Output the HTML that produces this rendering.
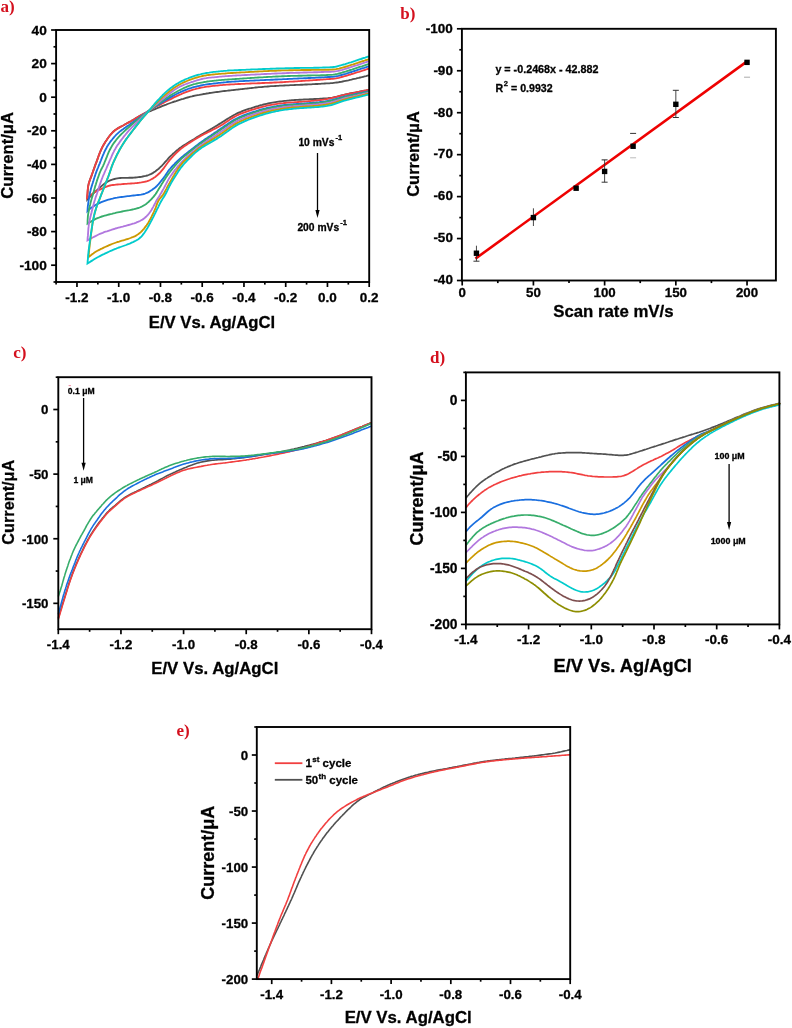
<!DOCTYPE html>
<html><head><meta charset="utf-8"><title>Figure</title>
<style>
html,body{margin:0;padding:0;background:#fff;}
body{width:792px;height:1028px;overflow:hidden;font-family:"Liberation Sans", sans-serif;}
svg{display:block;}
</style></head>
<body>
<svg width="792" height="1028" viewBox="0 0 792 1028">
<rect x="0" y="0" width="792" height="1028" fill="#fff"/>
<g style="opacity:0.999">
<text x="0.5" y="12.2" font-family='"Liberation Serif", serif' font-size="17" font-weight="bold" fill="#d4101e" text-anchor="start">a)</text>
<path d="M369,89.8 367.5,90.1 366.1,90.4 364.6,90.6 363.1,90.9 361.6,91.2 360.2,91.5 358.7,91.8 357.2,92.1 355.7,92.4 354.3,92.6 352.8,92.9 351.3,93.2 349.8,93.5 348.4,93.8 346.9,94.1 345.4,94.4 344,94.8 342.5,95.1 341.1,95.5 339.6,95.9 338.2,96.3 336.7,96.7 335.2,97 333.8,97.3 332.3,97.6 330.8,97.8 329.3,98 327.8,98.2 326.3,98.3 324.8,98.4 323.3,98.5 321.8,98.6 320.3,98.7 318.8,98.8 317.3,98.9 315.8,99 314.3,99 312.8,99.1 311.3,99.2 309.8,99.2 308.3,99.3 306.8,99.4 305.4,99.4 303.9,99.5 302.4,99.6 300.9,99.7 299.4,99.7 297.9,99.8 296.4,99.9 294.9,100 293.4,100.1 291.9,100.2 290.4,100.3 288.9,100.5 287.4,100.6 285.9,100.8 284.4,100.9 282.9,101.1 281.4,101.3 279.9,101.5 278.4,101.7 276.9,101.9 275.5,102.1 274,102.3 272.5,102.6 271,102.9 269.5,103.2 268.1,103.5 266.6,103.8 265.1,104.1 263.7,104.5 262.2,104.9 260.8,105.2 259.3,105.6 257.9,106.1 256.5,106.5 255,106.9 253.6,107.4 252.2,107.8 250.7,108.3 249.3,108.7 247.9,109.2 246.4,109.7 245,110.2 243.6,110.7 242.2,111.2 240.8,111.8 239.4,112.3 238.1,112.9 236.7,113.6 235.4,114.3 234,115 232.7,115.7 231.4,116.5 230.1,117.2 228.9,118 227.6,118.8 226.3,119.6 225.1,120.4 223.8,121.2 222.5,122 221.3,122.8 220,123.6 218.7,124.4 217.4,125.2 216.1,126 214.8,126.8 213.6,127.5 212.3,128.3 211,129 209.7,129.8 208.4,130.5 207.1,131.3 205.8,132.1 204.5,132.8 203.2,133.6 201.9,134.3 200.6,135.1 199.3,135.9 198,136.6 196.7,137.4 195.4,138.2 194.2,139 192.9,139.7 191.6,140.5 190.3,141.3 189,142.1 187.8,142.9 186.5,143.7 185.2,144.5 183.9,145.3 182.7,146.1 181.5,147 180.2,147.8 179,148.8 177.9,149.7 176.7,150.6 175.5,151.6 174.4,152.6 173.3,153.5 172.2,154.6 171.1,155.6 170,156.6 169,157.7 168,158.8 167,160 166,161.1 165,162.2 164,163.4 163,164.5 162,165.6 160.9,166.6 159.8,167.7 158.7,168.7 157.6,169.6 156.4,170.5 155.2,171.4 153.9,172.3 152.7,173.1 151.3,173.8 150,174.4 148.6,175 147.2,175.5 145.8,175.9 144.3,176.2 142.8,176.5 141.3,176.8 139.9,177 138.4,177.2 136.9,177.4 135.4,177.5 133.9,177.6 132.4,177.7 130.9,177.7 129.4,177.7 127.9,177.8 126.4,177.8 124.9,177.8 123.4,177.8 121.9,177.9 120.4,178 118.9,178.2 117.4,178.4 115.9,178.7 114.5,179 113,179.4 111.6,179.8 110.2,180.4 108.8,181 107.5,181.7 106.2,182.4 105,183.3 103.8,184.2 102.6,185.1 101.5,186.1 100.3,187.1 99.2,188.1 98.1,189.1 97,190.1 95.9,191.1 94.8,192.1 93.7,193.2 92.6,194.2 91.6,195.3 90.5,196.3 89.4,197.4 88.4,198.4 87.3,199.5 L87.3,199.5 87.4,198 87.4,196.5 87.5,195 87.6,193.5 87.7,192 87.8,190.5 87.9,189 88,187.5 88.2,186 88.5,184.6 88.9,183.1 89.3,181.7 89.8,180.3 90.3,178.8 90.9,177.4 91.4,176 91.9,174.6 92.4,173.2 92.9,171.8 93.4,170.4 93.9,169 94.4,167.6 94.9,166.1 95.4,164.7 96,163.3 96.5,161.9 97,160.5 97.5,159.1 98,157.7 98.5,156.3 99,154.9 99.6,153.4 100.1,152.1 100.7,150.7 101.3,149.3 102,147.9 102.6,146.6 103.4,145.3 104.1,144 104.9,142.7 105.6,141.4 106.5,140.2 107.3,138.9 108.2,137.7 109.1,136.5 110,135.3 111,134.2 112,133.1 113,132 114.2,131 115.3,130.1 116.5,129.2 117.8,128.4 119.1,127.6 120.4,126.9 121.7,126.2 123.1,125.5 124.4,124.8 125.7,124 127,123.3 128.3,122.6 129.7,121.9 131,121.2 132.3,120.4 133.6,119.7 134.8,118.9 136.1,118.1 137.4,117.3 138.7,116.5 140,115.8 141.3,115.1 142.7,114.4 144,113.8 145.4,113.2 146.8,112.6 148.1,112 149.5,111.4 150.9,110.8 152.3,110.2 153.7,109.7 155.1,109.1 156.5,108.5 157.8,107.9 159.2,107.4 160.6,106.8 162,106.2 163.4,105.7 164.8,105.1 166.2,104.6 167.6,104 169,103.5 170.4,103 171.8,102.5 173.3,102 174.7,101.5 176.1,101.1 177.5,100.6 179,100.1 180.4,99.7 181.8,99.2 183.3,98.8 184.7,98.3 186.1,97.9 187.6,97.5 189,97.1 190.5,96.7 191.9,96.4 193.4,96 194.9,95.7 196.3,95.4 197.8,95.1 199.3,94.9 200.8,94.6 202.2,94.3 203.7,94 205.2,93.8 206.7,93.5 208.2,93.3 209.6,93 211.1,92.8 212.6,92.6 214.1,92.4 215.6,92.2 217.1,92 218.6,91.8 220,91.6 221.5,91.4 223,91.2 224.5,91 226,90.8 227.5,90.7 229,90.5 230.5,90.3 232,90.1 233.5,90 235,89.8 236.4,89.6 237.9,89.5 239.4,89.3 240.9,89.1 242.4,89 243.9,88.8 245.4,88.6 246.9,88.5 248.4,88.3 249.9,88.1 251.4,88 252.9,87.8 254.4,87.7 255.8,87.5 257.3,87.4 258.8,87.2 260.3,87.1 261.8,87 263.3,86.8 264.8,86.7 266.3,86.6 267.8,86.5 269.3,86.4 270.8,86.2 272.3,86.1 273.8,86.1 275.3,86 276.8,85.9 278.3,85.8 279.8,85.7 281.3,85.6 282.8,85.6 284.3,85.5 285.8,85.4 287.3,85.3 288.8,85.3 290.3,85.2 291.8,85.1 293.3,85.1 294.8,85 296.3,84.9 297.8,84.9 299.3,84.8 300.8,84.7 302.3,84.7 303.8,84.6 305.3,84.5 306.8,84.5 308.3,84.4 309.8,84.3 311.3,84.3 312.8,84.2 314.3,84.1 315.8,84 317.3,84 318.8,83.9 320.3,83.8 321.8,83.7 323.3,83.6 324.8,83.5 326.3,83.4 327.8,83.4 329.3,83.3 330.8,83.2 332.3,83.1 333.8,82.9 335.3,82.7 336.8,82.5 338.2,82.3 339.7,82 341.2,81.8 342.7,81.5 344.1,81.2 345.6,80.9 347.1,80.6 348.5,80.3 350,79.9 351.5,79.6 352.9,79.2 354.4,78.9 355.9,78.6 357.3,78.2 358.8,77.9 360.2,77.5 361.7,77.2 363.2,76.8 364.6,76.4 366.1,76.1 367.5,75.7 369,75.4" fill="none" stroke="#515151" stroke-width="1.85" stroke-linejoin="miter" stroke-miterlimit="10" stroke-linecap="butt"/>
<path d="M369,89.8 367.5,90.1 366.1,90.4 364.6,90.7 363.1,91 361.6,91.3 360.2,91.6 358.7,91.9 357.2,92.2 355.8,92.5 354.3,92.8 352.8,93.1 351.3,93.4 349.9,93.7 348.4,94 346.9,94.3 345.5,94.6 344,95 342.6,95.3 341.1,95.7 339.6,96 338.2,96.4 336.7,96.8 335.3,97.2 333.8,97.5 332.4,97.8 330.9,98.2 329.4,98.5 327.9,98.8 326.5,99.1 325,99.3 323.5,99.6 322,99.8 320.5,100 319.1,100.2 317.6,100.3 316.1,100.5 314.6,100.6 313.1,100.8 311.6,100.9 310.1,101.1 308.6,101.2 307.1,101.3 305.6,101.4 304.1,101.6 302.6,101.7 301.1,101.8 299.6,101.9 298.1,102 296.6,102.1 295.1,102.2 293.6,102.3 292.1,102.4 290.6,102.5 289.1,102.6 287.6,102.7 286.1,102.8 284.7,103 283.2,103.2 281.7,103.3 280.2,103.5 278.7,103.7 277.2,103.9 275.7,104.1 274.2,104.3 272.8,104.6 271.3,104.8 269.8,105.1 268.3,105.4 266.9,105.7 265.4,106.1 263.9,106.4 262.5,106.8 261,107.2 259.6,107.6 258.1,108 256.7,108.4 255.3,108.8 253.8,109.3 252.4,109.7 251,110.2 249.5,110.7 248.1,111.1 246.7,111.6 245.3,112.1 243.9,112.6 242.5,113.1 241.1,113.7 239.7,114.2 238.3,114.8 236.9,115.5 235.6,116.2 234.3,116.9 233,117.6 231.7,118.4 230.4,119.2 229.2,120 227.9,120.9 226.7,121.7 225.4,122.5 224.2,123.4 222.9,124.2 221.7,125 220.4,125.8 219.1,126.5 217.8,127.2 216.4,128 215.1,128.6 213.8,129.3 212.4,130 211.1,130.7 209.8,131.4 208.4,132 207.1,132.7 205.7,133.4 204.4,134 203.1,134.7 201.7,135.4 200.4,136.1 199.1,136.9 197.8,137.6 196.5,138.4 195.2,139.2 193.9,140 192.7,140.8 191.4,141.6 190.2,142.4 188.9,143.2 187.6,144 186.4,144.9 185.1,145.7 183.9,146.5 182.7,147.4 181.5,148.3 180.3,149.3 179.2,150.3 178.1,151.3 177,152.3 175.9,153.3 174.9,154.4 173.8,155.5 172.8,156.6 171.8,157.7 170.8,158.8 169.8,159.9 168.9,161.1 168,162.3 167.1,163.5 166.2,164.7 165.3,166 164.4,167.2 163.6,168.4 162.6,169.6 161.7,170.7 160.7,171.9 159.7,173 158.6,174 157.5,175 156.3,176 155.2,176.9 153.9,177.8 152.7,178.6 151.4,179.3 150.1,180 148.7,180.6 147.3,181.1 145.8,181.5 144.4,181.8 142.9,182.1 141.4,182.4 139.9,182.6 138.5,182.8 137,183 135.5,183.1 134,183.3 132.5,183.4 131,183.5 129.5,183.6 128,183.7 126.5,183.8 125,183.9 123.5,184 122,184.1 120.5,184.3 119,184.4 117.5,184.5 116,184.6 114.5,184.8 113,185 111.6,185.2 110.1,185.5 108.6,185.8 107.2,186.3 105.9,186.9 104.5,187.5 103.1,188.1 101.7,188.7 100.4,189.3 99,190 97.6,190.6 96.3,191.3 95,192 93.7,192.8 92.5,193.7 91.3,194.5 90.1,195.5 88.9,196.4 87.8,197.4 87,198 L87,198 87.1,196.5 87.2,195 87.4,193.5 87.5,192 87.6,190.5 87.8,189 88,187.5 88.2,186.1 88.5,184.6 88.9,183.1 89.3,181.7 89.8,180.3 90.3,178.9 90.9,177.5 91.4,176.1 91.9,174.6 92.4,173.2 92.9,171.8 93.4,170.4 93.9,169 94.4,167.6 94.9,166.2 95.4,164.7 95.9,163.3 96.5,161.9 97,160.5 97.5,159.1 98,157.7 98.5,156.3 99,154.9 99.5,153.5 100.1,152.1 100.7,150.7 101.3,149.3 101.9,148 102.6,146.6 103.3,145.3 104.1,144 104.9,142.7 105.6,141.4 106.5,140.2 107.3,138.9 108.2,137.7 109.1,136.5 110,135.3 111,134.2 112,133.1 113,132 114.1,131 115.3,130.1 116.5,129.2 117.8,128.4 119.1,127.6 120.4,126.9 121.7,126.2 123.1,125.5 124.4,124.8 125.7,124 127,123.3 128.3,122.6 129.7,121.9 131,121.2 132.3,120.4 133.6,119.7 134.9,118.9 136.1,118.1 137.4,117.4 138.7,116.6 140,115.8 141.3,115 142.6,114.3 143.9,113.5 145.2,112.8 146.5,112.1 147.8,111.3 149.1,110.6 150.5,109.9 151.8,109.2 153.1,108.5 154.4,107.7 155.7,107 157.1,106.3 158.4,105.6 159.7,104.9 161,104.2 162.3,103.5 163.7,102.7 165,102 166.3,101.3 167.6,100.6 169,99.9 170.3,99.3 171.7,98.6 173,97.9 174.3,97.2 175.7,96.6 177.1,95.9 178.4,95.3 179.8,94.7 181.2,94.1 182.5,93.5 183.9,92.9 185.3,92.3 186.7,91.8 188.1,91.3 189.5,90.8 191,90.3 192.4,89.8 193.8,89.4 195.3,89.1 196.7,88.7 198.2,88.4 199.7,88 201.1,87.7 202.6,87.4 204.1,87.2 205.6,86.9 207.1,86.7 208.5,86.5 210,86.3 211.5,86.1 213,85.9 214.5,85.8 216,85.6 217.5,85.5 219,85.3 220.5,85.2 222,85.1 223.5,84.9 225,84.8 226.5,84.7 228,84.6 229.5,84.5 231,84.4 232.5,84.3 234,84.3 235.5,84.2 237,84.1 238.5,84 240,84 241.5,83.9 243,83.8 244.5,83.8 246,83.7 247.5,83.6 249,83.6 250.5,83.5 252,83.4 253.5,83.4 255,83.3 256.5,83.3 258,83.2 259.5,83.2 261,83.1 262.5,83 264,83 265.5,82.9 267,82.8 268.5,82.8 270,82.7 271.5,82.7 273,82.6 274.5,82.5 276,82.5 277.5,82.4 279,82.3 280.5,82.2 282,82.2 283.5,82.1 285,82 286.5,81.9 288,81.8 289.5,81.7 291,81.6 292.5,81.6 294,81.5 295.5,81.4 297,81.3 298.5,81.2 300,81.1 301.5,81 303,80.9 304.5,80.8 306,80.7 307.5,80.6 309,80.5 310.5,80.4 312,80.3 313.5,80.2 315,80.1 316.5,80 318,79.9 319.5,79.8 320.9,79.7 322.4,79.6 323.9,79.4 325.4,79.3 326.9,79.2 328.4,79.1 329.9,79 331.4,78.9 332.9,78.8 334.4,78.6 335.9,78.4 337.4,78.1 338.8,77.8 340.3,77.4 341.7,77 343.2,76.6 344.6,76.2 346.1,75.8 347.5,75.4 348.9,74.9 350.4,74.5 351.8,74 353.3,73.6 354.7,73.1 356.1,72.7 357.5,72.2 359,71.8 360.4,71.3 361.8,70.9 363.3,70.4 364.7,70 366.1,69.5 367.6,69 369,68.6" fill="none" stroke="#F14040" stroke-width="1.85" stroke-linejoin="miter" stroke-miterlimit="10" stroke-linecap="butt"/>
<path d="M369,91.2 367.5,91.5 366.1,91.8 364.6,92.1 363.1,92.5 361.7,92.8 360.2,93.1 358.7,93.4 357.3,93.7 355.8,94 354.3,94.3 352.9,94.7 351.4,95 349.9,95.3 348.5,95.6 347,96 345.5,96.3 344.1,96.7 342.6,97.1 341.2,97.5 339.7,97.9 338.3,98.3 336.9,98.7 335.4,99.1 334,99.5 332.5,99.9 331,100.2 329.6,100.5 328.1,100.8 326.6,101.1 325.2,101.4 323.7,101.6 322.2,101.8 320.7,102 319.2,102.2 317.7,102.3 316.2,102.5 314.7,102.6 313.2,102.7 311.7,102.9 310.2,103 308.7,103.1 307.2,103.2 305.8,103.3 304.3,103.5 302.8,103.6 301.3,103.7 299.8,103.8 298.3,103.9 296.8,104 295.3,104.1 293.8,104.2 292.3,104.3 290.8,104.5 289.3,104.6 287.8,104.7 286.3,104.9 284.8,105 283.3,105.2 281.8,105.4 280.3,105.6 278.9,105.8 277.4,106 275.9,106.3 274.4,106.5 272.9,106.8 271.5,107.1 270,107.4 268.5,107.7 267.1,108 265.6,108.4 264.1,108.7 262.7,109.1 261.3,109.5 259.8,109.9 258.4,110.4 256.9,110.8 255.5,111.3 254.1,111.7 252.7,112.2 251.2,112.7 249.8,113.2 248.4,113.7 247,114.2 245.6,114.7 244.2,115.2 242.8,115.7 241.4,116.3 240,116.9 238.6,117.5 237.3,118.2 236,118.9 234.6,119.6 233.3,120.3 232,121.1 230.8,121.9 229.5,122.7 228.3,123.5 227,124.4 225.8,125.2 224.5,126.1 223.3,126.9 222.1,127.8 220.8,128.6 219.6,129.5 218.3,130.3 217.1,131.2 215.9,132 214.6,132.8 213.4,133.7 212.1,134.5 210.9,135.4 209.7,136.2 208.4,137.1 207.2,137.9 205.9,138.8 204.7,139.6 203.5,140.5 202.3,141.3 201,142.2 199.8,143.1 198.6,144 197.4,144.9 196.2,145.8 195,146.7 193.8,147.6 192.7,148.6 191.5,149.5 190.3,150.4 189.1,151.3 187.9,152.3 186.7,153.2 185.6,154.1 184.4,155 183.2,156 182,156.9 180.9,157.9 179.8,158.9 178.7,159.9 177.6,160.9 176.5,162 175.4,163 174.4,164.1 173.3,165.2 172.3,166.2 171.3,167.3 170.3,168.5 169.3,169.6 168.4,170.8 167.6,172.1 166.8,173.3 165.9,174.6 165.1,175.8 164.2,177 163.3,178.2 162.4,179.4 161.4,180.6 160.5,181.7 159.6,182.9 158.6,184.1 157.6,185.2 156.6,186.3 155.5,187.3 154.3,188.2 153.1,189.1 151.9,190 150.6,190.8 149.3,191.6 148,192.3 146.7,192.9 145.3,193.5 143.9,194 142.4,194.3 141,194.6 139.5,194.8 138,195 136.5,195.2 135,195.4 133.5,195.5 132,195.7 130.5,195.9 129,196.1 127.6,196.2 126.1,196.4 124.6,196.6 123.1,196.8 121.6,197 120.1,197.2 118.6,197.4 117.1,197.7 115.7,197.9 114.2,198.2 112.7,198.6 111.3,198.9 109.8,199.3 108.4,199.7 106.9,200.1 105.5,200.6 104.1,201.1 102.7,201.6 101.3,202.2 99.9,202.8 98.6,203.4 97.2,204.1 95.9,204.8 94.6,205.5 93.4,206.4 92.1,207.2 90.9,208.1 89.7,209 88.5,209.9 87.5,211 L87.5,211 87.6,209.5 87.7,208 87.8,206.5 88,205 88.2,203.5 88.4,202.1 88.6,200.6 88.9,199.1 89.1,197.6 89.3,196.1 89.6,194.6 89.9,193.2 90.2,191.7 90.6,190.2 90.9,188.8 91.3,187.4 91.8,185.9 92.2,184.5 92.7,183.1 93.1,181.6 93.6,180.2 94,178.8 94.5,177.3 95,175.9 95.4,174.5 95.9,173.1 96.4,171.7 97,170.2 97.5,168.9 98.1,167.5 98.6,166.1 99.2,164.7 99.8,163.3 100.3,161.9 100.9,160.5 101.4,159.1 102,157.7 102.5,156.3 103.1,154.9 103.7,153.6 104.3,152.2 104.9,150.8 105.6,149.5 106.3,148.2 107,146.8 107.8,145.6 108.6,144.3 109.5,143.1 110.3,141.8 111.2,140.6 112.2,139.5 113.1,138.3 114.1,137.1 115.1,136 116.1,134.9 117.2,133.9 118.3,132.9 119.4,131.9 120.6,130.9 121.8,130 123,129.2 124.2,128.3 125.5,127.5 126.7,126.6 127.9,125.8 129.2,125 130.4,124.1 131.6,123.2 132.9,122.4 134.1,121.5 135.3,120.6 136.5,119.8 137.8,118.9 139,118 140.2,117.1 141.4,116.2 142.6,115.3 143.8,114.4 145,113.5 146.2,112.6 147.4,111.8 148.7,110.9 149.9,110.1 151.2,109.3 152.4,108.5 153.7,107.6 155,106.8 156.2,106 157.5,105.2 158.8,104.4 160,103.6 161.3,102.8 162.6,102 163.8,101.2 165.1,100.5 166.4,99.7 167.7,98.9 169,98.1 170.3,97.4 171.6,96.6 172.9,95.9 174.2,95.2 175.5,94.5 176.9,93.8 178.2,93.1 179.6,92.5 180.9,91.9 182.3,91.3 183.7,90.7 185.1,90.1 186.5,89.6 187.9,89 189.3,88.5 190.7,88.1 192.1,87.6 193.6,87.2 195,86.8 196.5,86.5 198,86.1 199.4,85.8 200.9,85.5 202.4,85.2 203.8,84.9 205.3,84.7 206.8,84.4 208.3,84.2 209.8,84 211.3,83.8 212.7,83.7 214.2,83.5 215.7,83.3 217.2,83.1 218.7,82.9 220.2,82.8 221.7,82.6 223.2,82.5 224.7,82.3 226.2,82.2 227.7,82 229.2,81.9 230.7,81.8 232.2,81.7 233.7,81.6 235.1,81.5 236.6,81.4 238.1,81.3 239.6,81.2 241.1,81.1 242.6,81.1 244.1,81 245.6,80.9 247.1,80.8 248.6,80.8 250.1,80.7 251.6,80.6 253.1,80.6 254.6,80.5 256.1,80.4 257.6,80.3 259.1,80.3 260.6,80.2 262.1,80.1 263.6,80.1 265.1,80 266.6,79.9 268.1,79.9 269.6,79.8 271.1,79.7 272.6,79.7 274.1,79.6 275.6,79.5 277.1,79.5 278.6,79.4 280.1,79.3 281.6,79.3 283.1,79.2 284.6,79.1 286.1,79.1 287.6,79 289.1,78.9 290.6,78.8 292.1,78.8 293.6,78.7 295.1,78.6 296.6,78.6 298.1,78.5 299.6,78.4 301.1,78.4 302.6,78.3 304.1,78.2 305.6,78.2 307.1,78.1 308.6,78 310.1,78 311.6,77.9 313.1,77.8 314.6,77.8 316.1,77.7 317.6,77.6 319.1,77.5 320.6,77.5 322.1,77.4 323.6,77.3 325.1,77.2 326.6,77.1 328.1,77 329.6,77 331.1,76.9 332.6,76.8 334.1,76.6 335.5,76.4 337,76.1 338.5,75.8 339.9,75.4 341.4,75 342.8,74.6 344.2,74.2 345.7,73.8 347.1,73.3 348.5,72.9 350,72.4 351.4,72 352.8,71.5 354.3,71 355.7,70.6 357.1,70.1 358.5,69.6 360,69.2 361.4,68.7 362.8,68.2 364.2,67.8 365.7,67.3 367.1,66.8 368.5,66.4 369,66.2" fill="none" stroke="#1A6FDF" stroke-width="1.85" stroke-linejoin="miter" stroke-miterlimit="10" stroke-linecap="butt"/>
<path d="M369,91.7 367.5,92 366.1,92.3 364.6,92.6 363.1,93 361.7,93.3 360.2,93.6 358.7,93.9 357.3,94.2 355.8,94.6 354.3,94.9 352.9,95.2 351.4,95.5 349.9,95.9 348.5,96.2 347,96.5 345.5,96.9 344.1,97.3 342.6,97.7 341.2,98.1 339.8,98.5 338.3,99 336.9,99.4 335.4,99.8 334,100.2 332.5,100.5 331.1,100.9 329.6,101.2 328.1,101.5 326.7,101.8 325.2,102 323.7,102.3 322.2,102.5 320.7,102.7 319.2,102.8 317.7,103 316.2,103.1 314.7,103.3 313.3,103.4 311.8,103.5 310.3,103.6 308.8,103.8 307.3,103.9 305.8,104 304.3,104.1 302.8,104.2 301.3,104.3 299.8,104.4 298.3,104.6 296.8,104.7 295.3,104.8 293.8,104.9 292.3,105 290.8,105.1 289.3,105.2 287.8,105.4 286.3,105.5 284.8,105.7 283.3,105.9 281.8,106.1 280.4,106.3 278.9,106.5 277.4,106.7 275.9,107 274.4,107.2 272.9,107.5 271.5,107.8 270,108.1 268.5,108.4 267.1,108.8 265.6,109.1 264.2,109.5 262.7,109.9 261.3,110.3 259.8,110.7 258.4,111.2 257,111.6 255.5,112.1 254.1,112.6 252.7,113 251.3,113.5 249.8,114 248.4,114.5 247,115 245.6,115.6 244.2,116.1 242.8,116.7 241.4,117.2 240,117.8 238.7,118.5 237.3,119.1 236,119.8 234.7,120.5 233.4,121.3 232.1,122.1 230.8,122.9 229.6,123.7 228.3,124.5 227.1,125.4 225.9,126.2 224.6,127.1 223.4,127.9 222.2,128.8 220.9,129.6 219.7,130.5 218.4,131.3 217.2,132.2 215.9,133 214.7,133.8 213.5,134.7 212.2,135.5 211,136.4 209.7,137.2 208.5,138 207.2,138.9 206,139.7 204.8,140.6 203.5,141.5 202.3,142.3 201.1,143.2 199.8,144.1 198.6,144.9 197.4,145.8 196.2,146.7 195,147.7 193.9,148.6 192.7,149.5 191.5,150.5 190.4,151.4 189.2,152.3 188,153.3 186.8,154.2 185.7,155.2 184.5,156.1 183.4,157.1 182.2,158.1 181.1,159.1 180.1,160.2 179,161.3 178,162.4 177,163.5 176,164.6 175,165.7 174.1,166.9 173.1,168 172.2,169.2 171.2,170.4 170.3,171.5 169.4,172.7 168.5,173.9 167.6,175.1 166.7,176.4 165.9,177.6 165.1,178.9 164.2,180.1 163.4,181.4 162.6,182.7 161.8,183.9 161.1,185.2 160.3,186.5 159.5,187.8 158.7,189.1 157.9,190.4 157.2,191.6 156.4,192.9 155.5,194.2 154.6,195.4 153.7,196.6 152.7,197.7 151.7,198.8 150.7,199.9 149.6,200.9 148.5,202 147.4,202.9 146.2,203.9 145,204.7 143.7,205.5 142.4,206.3 141.1,206.9 139.7,207.5 138.3,208 136.9,208.4 135.4,208.8 133.9,209.2 132.5,209.5 131,209.8 129.5,210.1 128.1,210.3 126.6,210.6 125.1,210.9 123.6,211.2 122.1,211.5 120.7,211.8 119.2,212.1 117.7,212.4 116.3,212.7 114.8,213.1 113.4,213.4 111.9,213.8 110.4,214.1 109,214.5 107.5,214.9 106.1,215.3 104.6,215.7 103.2,216.1 101.8,216.5 100.3,217 98.9,217.6 97.5,218.1 96.2,218.7 94.8,219.4 93.5,220.1 92.2,220.8 90.9,221.6 89.6,222.4 88.4,223.2 87.5,223.7 L87.5,223.7 87.6,222.2 87.6,220.7 87.7,219.2 87.8,217.7 87.9,216.2 88.1,214.7 88.3,213.2 88.6,211.8 88.9,210.3 89.2,208.8 89.5,207.4 89.8,205.9 90.2,204.4 90.5,203 90.9,201.5 91.3,200.1 91.7,198.6 92.1,197.2 92.6,195.7 93,194.3 93.4,192.9 93.8,191.4 94.2,190 94.6,188.5 95,187.1 95.4,185.6 95.9,184.2 96.3,182.8 96.8,181.3 97.2,179.9 97.7,178.5 98.2,177.1 98.7,175.7 99.2,174.3 99.7,172.9 100.3,171.5 100.9,170.1 101.6,168.8 102.3,167.4 103,166.1 103.6,164.7 104.2,163.3 104.7,162 105.3,160.6 105.9,159.2 106.4,157.8 107,156.4 107.5,155 108.1,153.6 108.7,152.2 109.3,150.9 110,149.5 110.7,148.2 111.4,146.9 112.2,145.6 113,144.3 113.8,143.1 114.7,141.9 115.6,140.7 116.5,139.5 117.5,138.3 118.5,137.2 119.5,136.1 120.5,135 121.6,133.9 122.7,132.9 123.7,131.9 124.8,130.8 125.9,129.8 127,128.8 128.2,127.8 129.3,126.8 130.4,125.8 131.5,124.8 132.7,123.8 133.8,122.9 135,121.9 136.1,121 137.3,120 138.5,119.1 139.6,118.1 140.8,117.2 142,116.3 143.1,115.3 144.3,114.4 145.5,113.4 146.7,112.5 147.8,111.6 149,110.7 150.2,109.8 151.5,108.9 152.7,108 153.9,107.1 155.1,106.2 156.3,105.3 157.5,104.5 158.7,103.6 159.9,102.7 161.1,101.8 162.4,100.9 163.6,100.1 164.8,99.2 166,98.3 167.3,97.5 168.5,96.7 169.8,95.8 171,95 172.3,94.2 173.6,93.5 174.9,92.7 176.2,92 177.5,91.2 178.9,90.5 180.2,89.9 181.5,89.2 182.9,88.5 184.2,87.9 185.6,87.3 187,86.7 188.4,86.1 189.8,85.6 191.2,85.1 192.6,84.7 194.1,84.2 195.5,83.9 197,83.5 198.4,83.2 199.9,82.9 201.4,82.6 202.9,82.3 204.3,82 205.8,81.8 207.3,81.5 208.8,81.3 210.3,81.1 211.8,81 213.2,80.8 214.7,80.6 216.2,80.5 217.7,80.3 219.2,80.2 220.7,80.1 222.2,79.9 223.7,79.8 225.2,79.7 226.7,79.6 228.2,79.5 229.7,79.4 231.2,79.3 232.7,79.2 234.2,79.1 235.7,79 237.2,78.9 238.7,78.8 240.2,78.7 241.7,78.6 243.2,78.5 244.7,78.4 246.2,78.3 247.7,78.2 249.2,78.1 250.7,78 252.2,77.9 253.7,77.8 255.2,77.7 256.6,77.6 258.1,77.5 259.6,77.4 261.1,77.4 262.6,77.3 264.1,77.2 265.6,77.1 267.1,77 268.6,76.9 270.1,76.8 271.6,76.8 273.1,76.7 274.6,76.6 276.1,76.5 277.6,76.5 279.1,76.4 280.6,76.3 282.1,76.2 283.6,76.2 285.1,76.1 286.6,76.1 288.1,76 289.6,76 291.1,75.9 292.6,75.9 294.1,75.8 295.6,75.8 297.1,75.8 298.6,75.7 300.1,75.7 301.6,75.7 303.1,75.6 304.6,75.6 306.1,75.6 307.6,75.5 309.1,75.5 310.6,75.5 312.1,75.4 313.6,75.4 315.1,75.4 316.6,75.3 318.1,75.3 319.6,75.3 321.1,75.2 322.6,75.2 324.1,75.1 325.6,75.1 327.1,75 328.6,74.9 330.1,74.8 331.6,74.8 333.1,74.7 334.6,74.5 336.1,74.2 337.5,73.9 339,73.5 340.4,73.1 341.9,72.7 343.3,72.2 344.7,71.8 346.2,71.4 347.6,70.9 349,70.5 350.5,70 351.9,69.6 353.3,69.1 354.8,68.6 356.2,68.1 357.6,67.7 359,67.2 360.5,66.7 361.9,66.3 363.3,65.8 364.7,65.3 366.1,64.8 367.6,64.4 369,63.9" fill="none" stroke="#37AD6B" stroke-width="1.85" stroke-linejoin="miter" stroke-miterlimit="10" stroke-linecap="butt"/>
<path d="M369,92.6 367.5,93 366.1,93.3 364.6,93.6 363.1,93.9 361.7,94.3 360.2,94.6 358.7,94.9 357.3,95.3 355.8,95.6 354.3,95.9 352.9,96.3 351.4,96.6 350,97 348.5,97.3 347,97.7 345.6,98 344.1,98.4 342.7,98.9 341.3,99.3 339.8,99.8 338.4,100.2 337,100.7 335.5,101.1 334.1,101.5 332.6,101.9 331.2,102.3 329.7,102.6 328.2,102.9 326.8,103.2 325.3,103.4 323.8,103.6 322.3,103.8 320.8,104 319.3,104.2 317.8,104.3 316.3,104.5 314.8,104.6 313.3,104.7 311.8,104.8 310.4,104.9 308.9,105 307.4,105.1 305.9,105.2 304.4,105.4 302.9,105.5 301.4,105.6 299.9,105.7 298.4,105.8 296.9,105.9 295.4,106 293.9,106.2 292.4,106.3 290.9,106.4 289.4,106.5 287.9,106.7 286.4,106.9 284.9,107 283.4,107.2 281.9,107.5 280.4,107.7 279,107.9 277.5,108.2 276,108.4 274.5,108.7 273.1,109 271.6,109.3 270.1,109.6 268.7,110 267.2,110.3 265.7,110.7 264.3,111.1 262.8,111.5 261.4,111.9 260,112.3 258.5,112.8 257.1,113.2 255.7,113.7 254.2,114.2 252.8,114.7 251.4,115.2 250,115.7 248.6,116.2 247.2,116.7 245.8,117.3 244.4,117.8 243,118.4 241.6,119 240.3,119.6 238.9,120.3 237.6,120.9 236.2,121.6 234.9,122.4 233.6,123.1 232.3,123.9 231.1,124.7 229.8,125.6 228.6,126.4 227.4,127.3 226.1,128.1 224.9,129 223.7,129.9 222.5,130.7 221.2,131.6 220,132.4 218.7,133.3 217.5,134.1 216.2,135 215,135.8 213.7,136.6 212.5,137.4 211.2,138.3 210,139.1 208.7,139.9 207.5,140.8 206.2,141.6 205,142.4 203.7,143.3 202.5,144.2 201.3,145 200.1,145.9 198.9,146.8 197.7,147.7 196.5,148.6 195.3,149.6 194.2,150.6 193.1,151.5 191.9,152.5 190.8,153.5 189.7,154.5 188.5,155.5 187.4,156.5 186.3,157.5 185.2,158.5 184.1,159.6 183.1,160.6 182,161.7 181,162.8 180,163.9 179,165.1 178,166.2 177.1,167.4 176.2,168.6 175.2,169.7 174.3,170.9 173.4,172.1 172.5,173.4 171.7,174.6 170.8,175.8 170,177.1 169.2,178.3 168.4,179.6 167.7,180.9 167,182.3 166.3,183.6 165.6,184.9 164.9,186.3 164.2,187.6 163.5,188.9 162.7,190.2 162,191.5 161.3,192.8 160.5,194.1 159.7,195.4 158.9,196.7 158.1,197.9 157.3,199.2 156.5,200.5 155.8,201.8 155.2,203.2 154.5,204.5 153.8,205.8 153.1,207.1 152.3,208.5 151.6,209.7 150.8,211 149.9,212.3 149,213.5 148.1,214.6 147.1,215.7 146,216.8 144.9,217.8 143.7,218.7 142.5,219.6 141.2,220.3 139.9,221 138.5,221.7 137.1,222.2 135.7,222.8 134.3,223.3 132.9,223.7 131.5,224.2 130,224.6 128.6,225 127.1,225.4 125.7,225.8 124.2,226.2 122.8,226.6 121.3,226.9 119.9,227.3 118.4,227.7 117,228.1 115.5,228.5 114.1,229 112.7,229.4 111.2,229.9 109.8,230.3 108.4,230.8 106.9,231.3 105.5,231.7 104.1,232.2 102.7,232.8 101.3,233.3 99.9,233.9 98.5,234.5 97.2,235.2 95.9,235.9 94.5,236.6 93.2,237.3 91.9,238 90.6,238.7 89.3,239.4 87.9,240.2 87.5,240.4 L87.5,240.4 87.6,238.9 87.7,237.4 87.9,235.9 88,234.4 88.1,232.9 88.2,231.4 88.3,229.9 88.4,228.4 88.6,226.9 88.7,225.5 88.9,224 89.2,222.5 89.5,221 89.8,219.6 90.1,218.1 90.5,216.6 90.8,215.2 91.2,213.7 91.6,212.3 91.9,210.8 92.3,209.4 92.7,207.9 93,206.5 93.4,205 93.8,203.6 94.2,202.1 94.6,200.7 95.1,199.2 95.5,197.8 96,196.4 96.5,195 97,193.5 97.4,192.1 97.9,190.7 98.4,189.3 98.8,187.8 99.3,186.4 99.7,185 100.2,183.6 100.7,182.1 101.2,180.7 101.7,179.3 102.3,177.9 102.8,176.5 103.4,175.1 104,173.8 104.6,172.4 105.2,171 105.8,169.6 106.4,168.3 107,166.9 107.6,165.5 108.2,164.2 108.8,162.8 109.4,161.4 110,160 110.6,158.6 111.2,157.3 111.8,155.9 112.4,154.5 113,153.2 113.7,151.8 114.3,150.5 115.1,149.2 115.8,147.9 116.6,146.6 117.4,145.3 118.3,144.1 119.1,142.9 120,141.6 120.9,140.4 121.8,139.2 122.7,138.1 123.6,136.9 124.6,135.7 125.5,134.5 126.5,133.4 127.5,132.2 128.4,131.1 129.4,130 130.5,128.9 131.5,127.8 132.5,126.7 133.6,125.7 134.6,124.6 135.7,123.5 136.8,122.5 137.9,121.4 138.9,120.4 140,119.3 141,118.3 142.1,117.2 143.2,116.2 144.3,115.1 145.3,114.1 146.4,113 147.5,112 148.6,111 149.8,110 150.9,109 152,108.1 153.2,107.1 154.3,106.1 155.4,105.1 156.6,104.2 157.7,103.2 158.9,102.2 160,101.3 161.2,100.3 162.3,99.3 163.5,98.4 164.7,97.4 165.8,96.5 167,95.6 168.2,94.6 169.4,93.7 170.5,92.8 171.7,91.9 172.9,91 174.2,90.1 175.4,89.3 176.7,88.5 177.9,87.7 179.3,87 180.6,86.3 182,85.7 183.3,85.1 184.7,84.5 186.1,84 187.6,83.5 189,83 190.4,82.5 191.8,82 193.2,81.6 194.6,81.1 196.1,80.6 197.5,80.2 198.9,79.8 200.4,79.4 201.9,79 203.3,78.7 204.8,78.4 206.3,78.2 207.7,77.9 209.2,77.7 210.7,77.6 212.2,77.4 213.7,77.3 215.2,77.1 216.7,77 218.2,76.8 219.7,76.7 221.2,76.6 222.7,76.4 224.2,76.3 225.7,76.2 227.2,76.1 228.7,76 230.2,75.9 231.6,75.8 233.1,75.7 234.6,75.6 236.1,75.5 237.6,75.4 239.1,75.4 240.6,75.3 242.1,75.2 243.6,75.1 245.1,75 246.6,75 248.1,74.9 249.6,74.8 251.1,74.7 252.6,74.6 254.1,74.6 255.6,74.5 257.1,74.4 258.6,74.3 260.1,74.3 261.6,74.2 263.1,74.1 264.6,74 266.1,74 267.6,73.9 269.1,73.8 270.6,73.8 272.1,73.7 273.6,73.6 275.1,73.5 276.6,73.5 278.1,73.4 279.6,73.3 281.1,73.3 282.6,73.2 284.1,73.2 285.6,73.1 287.1,73 288.6,73 290.1,72.9 291.6,72.9 293.1,72.8 294.6,72.8 296.1,72.7 297.6,72.7 299.1,72.7 300.6,72.6 302.1,72.6 303.6,72.5 305.1,72.5 306.6,72.5 308.1,72.4 309.6,72.4 311.1,72.3 312.6,72.3 314.1,72.2 315.6,72.2 317.1,72.2 318.6,72.1 320.1,72.1 321.6,72 323.1,72 324.6,71.9 326.1,71.8 327.6,71.8 329.1,71.7 330.6,71.7 332.1,71.6 333.6,71.6 335,71.4 336.5,71.2 338,70.9 339.4,70.5 340.9,70.1 342.3,69.8 343.8,69.3 345.2,68.9 346.7,68.5 348.1,68 349.5,67.6 350.9,67.1 352.4,66.7 353.8,66.2 355.2,65.7 356.7,65.3 358.1,64.8 359.5,64.3 360.9,63.9 362.4,63.4 363.8,62.9 365.2,62.4 366.6,62 368,61.5 369,61.2" fill="none" stroke="#B177DE" stroke-width="1.85" stroke-linejoin="miter" stroke-miterlimit="10" stroke-linecap="butt"/>
<path d="M369,93.6 367.5,93.9 366.1,94.2 364.6,94.6 363.2,94.9 361.7,95.3 360.2,95.6 358.8,95.9 357.3,96.3 355.9,96.6 354.4,97 352.9,97.3 351.5,97.7 350,98 348.6,98.4 347.1,98.8 345.7,99.2 344.2,99.6 342.8,100 341.4,100.5 339.9,101 338.5,101.5 337.1,101.9 335.7,102.4 334.2,102.8 332.8,103.2 331.3,103.6 329.9,103.9 328.4,104.2 326.9,104.5 325.5,104.8 324,105 322.5,105.2 321,105.4 319.5,105.5 318,105.7 316.5,105.8 315,105.9 313.5,106 312,106.1 310.5,106.2 309,106.3 307.5,106.4 306,106.5 304.5,106.6 303,106.7 301.5,106.8 300,106.9 298.6,107.1 297.1,107.2 295.6,107.3 294.1,107.4 292.6,107.5 291.1,107.7 289.6,107.8 288.1,108 286.6,108.2 285.1,108.4 283.6,108.6 282.1,108.8 280.7,109 279.2,109.3 277.7,109.6 276.2,109.8 274.8,110.1 273.3,110.4 271.8,110.7 270.4,111.1 268.9,111.4 267.5,111.8 266,112.2 264.6,112.6 263.1,113 261.7,113.4 260.2,113.9 258.8,114.3 257.4,114.8 256,115.3 254.5,115.8 253.1,116.3 251.7,116.8 250.3,117.3 248.9,117.8 247.5,118.4 246.1,118.9 244.7,119.5 243.4,120.1 242,120.7 240.6,121.3 239.3,122 237.9,122.6 236.6,123.4 235.3,124.1 234,124.9 232.8,125.7 231.5,126.5 230.3,127.3 229,128.2 227.8,129.1 226.6,129.9 225.4,130.8 224.2,131.7 222.9,132.6 221.7,133.4 220.5,134.3 219.2,135.1 218,135.9 216.7,136.7 215.4,137.5 214.2,138.3 212.9,139.1 211.6,139.9 210.3,140.7 209.1,141.5 207.8,142.3 206.5,143.1 205.3,143.9 204,144.7 202.8,145.6 201.5,146.4 200.3,147.3 199.1,148.1 197.9,149 196.7,149.9 195.5,150.9 194.4,151.9 193.2,152.8 192.1,153.8 191,154.8 189.9,155.8 188.8,156.9 187.7,157.9 186.5,158.9 185.5,159.9 184.4,160.9 183.3,162 182.3,163.1 181.4,164.3 180.4,165.4 179.5,166.6 178.7,167.9 177.8,169.1 177,170.4 176.2,171.6 175.4,172.9 174.6,174.2 173.9,175.5 173.1,176.8 172.4,178.1 171.6,179.4 170.8,180.7 170.1,182 169.4,183.3 168.6,184.6 167.9,185.9 167.2,187.2 166.5,188.6 165.8,189.9 165.1,191.2 164.4,192.5 163.6,193.8 162.8,195.1 161.9,196.2 160.9,197.4 160,198.5 159.1,199.7 158.3,201 157.7,202.3 157.1,203.7 156.6,205.1 156.1,206.5 155.6,207.9 155,209.3 154.4,210.7 153.8,212.1 153.1,213.4 152.5,214.8 151.8,216.1 151.2,217.5 150.5,218.8 149.8,220.1 149,221.4 148.3,222.7 147.4,224 146.6,225.2 145.7,226.4 144.8,227.6 143.9,228.8 142.9,229.9 141.9,231 140.8,232.1 139.7,233.1 138.5,234 137.3,234.8 136,235.6 134.7,236.3 133.3,236.9 131.9,237.4 130.5,238 129.1,238.5 127.7,239 126.2,239.4 124.8,239.9 123.4,240.3 121.9,240.7 120.5,241.1 119.1,241.6 117.6,242 116.2,242.5 114.8,243 113.4,243.5 112,244 110.6,244.6 109.2,245.2 107.8,245.8 106.5,246.4 105.1,247 103.7,247.6 102.4,248.3 101,248.9 99.7,249.6 98.3,250.3 97,251 95.7,251.8 94.5,252.6 93.3,253.5 92.1,254.3 90.9,255.3 89.7,256.2 88.5,257.1 L88.5,257.1 88.6,255.6 88.8,254.1 88.9,252.6 89.1,251.1 89.2,249.6 89.4,248.1 89.6,246.6 89.7,245.2 89.9,243.7 90.1,242.2 90.3,240.7 90.5,239.2 90.6,237.7 90.8,236.2 91,234.7 91.2,233.2 91.4,231.7 91.6,230.3 91.8,228.8 92,227.3 92.2,225.8 92.4,224.3 92.7,222.8 92.9,221.3 93.2,219.9 93.5,218.4 93.8,216.9 94.1,215.5 94.5,214 94.8,212.5 95.2,211.1 95.7,209.7 96.1,208.2 96.6,206.8 97,205.4 97.6,204 98.1,202.6 98.7,201.2 99.3,199.8 99.8,198.4 100.3,197 100.9,195.6 101.4,194.2 102,192.8 102.5,191.4 103.1,190 103.6,188.6 104.2,187.2 104.7,185.8 105.2,184.4 105.8,183 106.3,181.6 106.9,180.2 107.4,178.8 108,177.4 108.5,176 109,174.6 109.6,173.2 110,171.8 110.5,170.3 111,168.9 111.4,167.5 111.9,166.1 112.5,164.7 113,163.3 113.6,161.9 114.3,160.5 114.9,159.2 115.5,157.8 116.2,156.5 116.8,155.1 117.5,153.8 118.2,152.4 118.9,151.1 119.6,149.8 120.3,148.5 121.1,147.2 121.9,145.9 122.6,144.6 123.5,143.4 124.3,142.1 125.1,140.8 125.9,139.6 126.8,138.4 127.7,137.2 128.6,135.9 129.5,134.7 130.4,133.6 131.3,132.4 132.2,131.2 133.1,130 134.1,128.8 135,127.6 135.9,126.4 136.8,125.2 137.8,124.1 138.7,122.9 139.6,121.7 140.6,120.5 141.5,119.4 142.5,118.2 143.4,117.1 144.4,115.9 145.4,114.8 146.4,113.7 147.4,112.5 148.4,111.4 149.4,110.3 150.4,109.2 151.4,108.1 152.4,107 153.5,105.9 154.5,104.8 155.6,103.8 156.7,102.7 157.8,101.7 158.8,100.7 159.9,99.6 161,98.6 162.1,97.6 163.2,96.6 164.4,95.6 165.5,94.6 166.6,93.6 167.8,92.7 169,91.7 170.1,90.8 171.3,89.9 172.6,89 173.8,88.1 175,87.3 176.3,86.5 177.5,85.7 178.8,84.9 180.1,84.2 181.5,83.5 182.8,82.8 184.2,82.2 185.6,81.6 186.9,81 188.3,80.4 189.7,79.9 191.1,79.4 192.6,78.9 194,78.4 195.4,77.9 196.8,77.5 198.3,77.1 199.7,76.7 201.2,76.4 202.7,76 204.1,75.7 205.6,75.5 207.1,75.2 208.6,75 210.1,74.8 211.6,74.7 213.1,74.5 214.6,74.4 216,74.2 217.5,74.1 219,73.9 220.5,73.8 222,73.7 223.5,73.6 225,73.5 226.5,73.3 228,73.2 229.5,73.1 231,73 232.5,73 234,72.9 235.5,72.8 237,72.7 238.5,72.6 240,72.5 241.5,72.4 243,72.3 244.5,72.3 246,72.2 247.5,72.1 249,72 250.5,71.9 252,71.8 253.5,71.8 255,71.7 256.5,71.6 258,71.5 259.5,71.4 261,71.4 262.5,71.3 264,71.2 265.5,71.1 267,71.1 268.5,71 270,70.9 271.5,70.9 273,70.8 274.5,70.7 276,70.7 277.5,70.6 279,70.5 280.5,70.5 282,70.4 283.5,70.4 285,70.3 286.5,70.3 288,70.3 289.5,70.2 291,70.2 292.5,70.2 294,70.1 295.5,70.1 297,70.1 298.5,70.1 300,70.1 301.5,70 303,70 304.5,70 306,70 307.5,70 309,70 310.5,70 312,69.9 313.5,69.9 315,69.9 316.5,69.9 318,69.9 319.5,69.9 321,69.8 322.5,69.8 324,69.8 325.5,69.7 327,69.7 328.5,69.7 330,69.6 331.5,69.6 333,69.5 334.5,69.4 336,69.2 337.5,68.9 338.9,68.6 340.4,68.2 341.8,67.8 343.3,67.4 344.7,67 346.2,66.5 347.6,66.1 349,65.6 350.5,65.2 351.9,64.7 353.3,64.3 354.7,63.8 356.2,63.3 357.6,62.9 359,62.4 360.4,61.9 361.9,61.4 363.3,61 364.7,60.5 366.1,60 367.6,59.6 369,59.1" fill="none" stroke="#CC9900" stroke-width="1.85" stroke-linejoin="miter" stroke-miterlimit="10" stroke-linecap="butt"/>
<path d="M369,94.5 367.5,94.9 366.1,95.2 364.6,95.6 363.2,95.9 361.7,96.3 360.3,96.6 358.8,97 357.3,97.3 355.9,97.7 354.4,98 353,98.4 351.5,98.8 350.1,99.1 348.6,99.5 347.2,99.9 345.7,100.3 344.3,100.7 342.9,101.2 341.4,101.7 340,102.2 338.6,102.7 337.2,103.2 335.8,103.7 334.4,104.2 332.9,104.6 331.5,105 330,105.3 328.5,105.6 327.1,105.9 325.6,106.1 324.1,106.3 322.6,106.5 321.1,106.7 319.6,106.9 318.1,107 316.6,107.1 315.2,107.2 313.7,107.3 312.2,107.4 310.7,107.5 309.2,107.6 307.7,107.7 306.2,107.8 304.7,107.9 303.2,108 301.7,108.1 300.2,108.2 298.7,108.3 297.2,108.4 295.7,108.6 294.2,108.7 292.7,108.8 291.2,109 289.7,109.1 288.2,109.3 286.7,109.5 285.3,109.7 283.8,109.9 282.3,110.2 280.8,110.4 279.3,110.7 277.9,111 276.4,111.2 274.9,111.5 273.5,111.9 272,112.2 270.5,112.5 269.1,112.9 267.6,113.3 266.2,113.7 264.7,114.1 263.3,114.5 261.9,115 260.4,115.4 259,115.9 257.6,116.3 256.2,116.8 254.8,117.3 253.4,117.9 252,118.4 250.6,118.9 249.2,119.5 247.8,120 246.4,120.6 245,121.2 243.6,121.8 242.3,122.4 240.9,123.1 239.6,123.7 238.2,124.4 236.9,125.1 235.6,125.9 234.3,126.7 233.1,127.5 231.8,128.3 230.6,129.2 229.4,130 228.2,130.9 227,131.8 225.7,132.7 224.5,133.6 223.3,134.5 222.1,135.3 220.9,136.2 219.6,137 218.3,137.8 217.1,138.6 215.8,139.4 214.5,140.1 213.2,140.9 211.9,141.7 210.6,142.4 209.3,143.2 208,143.9 206.7,144.7 205.4,145.4 204.2,146.2 202.9,147 201.6,147.8 200.4,148.7 199.2,149.6 198,150.5 196.8,151.4 195.7,152.4 194.5,153.4 193.5,154.4 192.4,155.4 191.3,156.5 190.2,157.6 189.2,158.6 188.1,159.7 187.1,160.7 186,161.8 185,162.9 184,164 183,165.2 182.1,166.3 181.1,167.5 180.2,168.7 179.4,169.9 178.5,171.1 177.7,172.4 176.9,173.7 176.1,174.9 175.3,176.2 174.5,177.5 173.7,178.8 172.9,180.1 172.2,181.3 171.4,182.6 170.7,183.9 170,185.3 169.2,186.6 168.6,187.9 167.9,189.3 167.3,190.6 166.6,192 166,193.3 165.3,194.6 164.5,195.9 163.7,197.2 162.8,198.4 162.1,199.7 161.3,201 160.6,202.3 159.9,203.6 159.2,205 158.6,206.3 157.9,207.7 157.2,209 156.6,210.4 155.9,211.7 155.3,213.1 154.6,214.4 153.9,215.8 153.3,217.1 152.6,218.4 151.9,219.8 151.2,221.1 150.5,222.4 149.8,223.7 149.1,225.1 148.3,226.4 147.6,227.7 146.8,228.9 146,230.2 145.2,231.5 144.4,232.7 143.5,233.9 142.6,235.1 141.6,236.3 140.6,237.3 139.5,238.3 138.3,239.2 137,240 135.7,240.8 134.4,241.4 133,242.1 131.6,242.7 130.3,243.3 128.9,243.9 127.5,244.4 126.1,245 124.7,245.5 123.3,246 121.9,246.5 120.5,247 119,247.5 117.6,248 116.2,248.6 114.8,249.1 113.5,249.7 112.1,250.3 110.7,250.9 109.3,251.5 108,252.2 106.6,252.8 105.3,253.4 103.9,254.1 102.6,254.7 101.2,255.4 99.9,256.1 98.6,256.8 97.2,257.5 95.9,258.2 94.6,259 93.4,259.8 92.1,260.6 90.8,261.4 89.6,262.2 88.3,263.1 87.5,263.6 L87.5,263.6 87.6,262.1 87.7,260.6 87.9,259.1 88,257.6 88.1,256.1 88.2,254.6 88.4,253.1 88.5,251.6 88.7,250.1 88.9,248.7 89.1,247.2 89.3,245.7 89.5,244.2 89.7,242.7 89.9,241.2 90.1,239.7 90.3,238.2 90.5,236.8 90.7,235.3 90.9,233.8 91.2,232.3 91.4,230.8 91.6,229.3 91.8,227.9 92.1,226.4 92.3,224.9 92.5,223.4 92.8,221.9 93.1,220.5 93.4,219 93.7,217.5 94,216 94.3,214.6 94.7,213.1 95.1,211.7 95.5,210.2 95.9,208.8 96.4,207.4 96.8,205.9 97.4,204.5 97.9,203.1 98.5,201.7 99,200.4 99.6,199 100.1,197.6 100.7,196.2 101.2,194.8 101.7,193.4 102.3,192 102.8,190.6 103.4,189.2 103.9,187.8 104.5,186.4 105,185 105.6,183.6 106.1,182.2 106.7,180.8 107.2,179.4 107.7,178 108.3,176.6 108.8,175.2 109.3,173.8 109.8,172.4 110.3,170.9 110.8,169.5 111.2,168.1 111.7,166.7 112.2,165.3 112.8,163.9 113.4,162.5 114,161.1 114.6,159.7 115.3,158.4 115.9,157 116.5,155.7 117.2,154.3 117.9,153 118.6,151.7 119.3,150.3 120,149 120.8,147.7 121.5,146.4 122.3,145.2 123.1,143.9 123.9,142.6 124.7,141.4 125.6,140.1 126.4,138.9 127.3,137.7 128.2,136.5 129.1,135.3 130,134.1 130.9,132.9 131.8,131.7 132.8,130.5 133.7,129.3 134.6,128.1 135.5,126.9 136.4,125.8 137.4,124.6 138.3,123.4 139.2,122.2 140.2,121 141.1,119.9 142.1,118.7 143,117.6 144,116.5 145,115.3 146,114.2 147,113.1 148,111.9 148.9,110.8 149.9,109.6 150.8,108.5 151.8,107.3 152.7,106.1 153.7,105 154.6,103.8 155.6,102.7 156.6,101.6 157.6,100.5 158.7,99.4 159.7,98.3 160.7,97.2 161.8,96.1 162.8,95 163.9,94 165,92.9 166.1,91.9 167.2,90.9 168.3,89.9 169.5,89 170.7,88.1 171.9,87.2 173.1,86.3 174.3,85.5 175.6,84.6 176.9,83.8 178.2,83.1 179.5,82.3 180.8,81.6 182.1,80.9 183.5,80.3 184.8,79.6 186.2,79 187.6,78.5 189,77.9 190.4,77.4 191.8,76.9 193.2,76.4 194.6,75.9 196.1,75.4 197.5,75 198.9,74.6 200.4,74.3 201.9,73.9 203.3,73.6 204.8,73.3 206.3,73 207.7,72.8 209.2,72.6 210.7,72.3 212.2,72.1 213.7,71.9 215.2,71.8 216.7,71.6 218.2,71.5 219.7,71.3 221.2,71.2 222.7,71.1 224.1,70.9 225.6,70.8 227.1,70.7 228.6,70.5 230.1,70.4 231.6,70.4 233.1,70.3 234.6,70.2 236.1,70.2 237.6,70.1 239.1,70 240.6,70 242.1,69.9 243.6,69.8 245.1,69.8 246.6,69.7 248.1,69.6 249.6,69.6 251.1,69.5 252.6,69.4 254.1,69.4 255.6,69.3 257.1,69.3 258.6,69.2 260.1,69.1 261.6,69.1 263.1,69 264.6,69 266.1,68.9 267.6,68.8 269.1,68.8 270.6,68.7 272.1,68.7 273.6,68.6 275.1,68.6 276.6,68.5 278.1,68.5 279.6,68.4 281.1,68.4 282.6,68.3 284.1,68.3 285.6,68.2 287.1,68.2 288.6,68.2 290.1,68.1 291.6,68.1 293.1,68.1 294.6,68 296.1,68 297.6,68 299.1,68 300.6,67.9 302.1,67.9 303.6,67.9 305.1,67.9 306.6,67.9 308.1,67.8 309.6,67.8 311.1,67.8 312.6,67.8 314.1,67.7 315.6,67.7 317.1,67.7 318.6,67.7 320.1,67.6 321.6,67.6 323.1,67.5 324.6,67.5 326.1,67.4 327.6,67.4 329.1,67.3 330.6,67.2 332.1,67.2 333.6,67 335.1,66.8 336.6,66.5 338,66.1 339.5,65.7 340.9,65.3 342.3,64.9 343.8,64.5 345.2,64.1 346.7,63.6 348.1,63.2 349.5,62.7 350.9,62.3 352.4,61.8 353.8,61.3 355.2,60.9 356.7,60.4 358.1,59.9 359.5,59.4 360.9,59 362.4,58.5 363.8,58 365.2,57.6 366.6,57.1 368,56.6 369,56.3" fill="none" stroke="#00CBCC" stroke-width="1.85" stroke-linejoin="miter" stroke-miterlimit="10" stroke-linecap="butt"/>
<rect x="56.1" y="30" width="313.1" height="252" fill="none" stroke="#000" stroke-width="1.9"/>
<line x1="53.5" y1="282" x2="56.1" y2="282" stroke="#000" stroke-width="1.7" stroke-linecap="butt"/>
<line x1="51.1" y1="265.2" x2="56.1" y2="265.2" stroke="#000" stroke-width="1.7" stroke-linecap="butt"/>
<text x="46.8" y="269.7" font-family='"Liberation Sans", sans-serif' font-size="13.7" font-weight="bold" fill="#000" text-anchor="end" stroke="#000" stroke-width="0.3">-100</text>
<line x1="53.5" y1="248.4" x2="56.1" y2="248.4" stroke="#000" stroke-width="1.7" stroke-linecap="butt"/>
<line x1="51.1" y1="231.6" x2="56.1" y2="231.6" stroke="#000" stroke-width="1.7" stroke-linecap="butt"/>
<text x="46.8" y="236.1" font-family='"Liberation Sans", sans-serif' font-size="13.7" font-weight="bold" fill="#000" text-anchor="end" stroke="#000" stroke-width="0.3">-80</text>
<line x1="53.5" y1="214.8" x2="56.1" y2="214.8" stroke="#000" stroke-width="1.7" stroke-linecap="butt"/>
<line x1="51.1" y1="198" x2="56.1" y2="198" stroke="#000" stroke-width="1.7" stroke-linecap="butt"/>
<text x="46.8" y="202.5" font-family='"Liberation Sans", sans-serif' font-size="13.7" font-weight="bold" fill="#000" text-anchor="end" stroke="#000" stroke-width="0.3">-60</text>
<line x1="53.5" y1="181.2" x2="56.1" y2="181.2" stroke="#000" stroke-width="1.7" stroke-linecap="butt"/>
<line x1="51.1" y1="164.4" x2="56.1" y2="164.4" stroke="#000" stroke-width="1.7" stroke-linecap="butt"/>
<text x="46.8" y="168.9" font-family='"Liberation Sans", sans-serif' font-size="13.7" font-weight="bold" fill="#000" text-anchor="end" stroke="#000" stroke-width="0.3">-40</text>
<line x1="53.5" y1="147.6" x2="56.1" y2="147.6" stroke="#000" stroke-width="1.7" stroke-linecap="butt"/>
<line x1="51.1" y1="130.8" x2="56.1" y2="130.8" stroke="#000" stroke-width="1.7" stroke-linecap="butt"/>
<text x="46.8" y="135.3" font-family='"Liberation Sans", sans-serif' font-size="13.7" font-weight="bold" fill="#000" text-anchor="end" stroke="#000" stroke-width="0.3">-20</text>
<line x1="53.5" y1="114" x2="56.1" y2="114" stroke="#000" stroke-width="1.7" stroke-linecap="butt"/>
<line x1="51.1" y1="97.2" x2="56.1" y2="97.2" stroke="#000" stroke-width="1.7" stroke-linecap="butt"/>
<text x="46.8" y="101.7" font-family='"Liberation Sans", sans-serif' font-size="13.7" font-weight="bold" fill="#000" text-anchor="end" stroke="#000" stroke-width="0.3">0</text>
<line x1="53.5" y1="80.4" x2="56.1" y2="80.4" stroke="#000" stroke-width="1.7" stroke-linecap="butt"/>
<line x1="51.1" y1="63.6" x2="56.1" y2="63.6" stroke="#000" stroke-width="1.7" stroke-linecap="butt"/>
<text x="46.8" y="68.1" font-family='"Liberation Sans", sans-serif' font-size="13.7" font-weight="bold" fill="#000" text-anchor="end" stroke="#000" stroke-width="0.3">20</text>
<line x1="53.5" y1="46.8" x2="56.1" y2="46.8" stroke="#000" stroke-width="1.7" stroke-linecap="butt"/>
<line x1="51.1" y1="30" x2="56.1" y2="30" stroke="#000" stroke-width="1.7" stroke-linecap="butt"/>
<text x="46.8" y="34.5" font-family='"Liberation Sans", sans-serif' font-size="13.7" font-weight="bold" fill="#000" text-anchor="end" stroke="#000" stroke-width="0.3">40</text>
<line x1="56.1" y1="282" x2="56.1" y2="284.6" stroke="#000" stroke-width="1.7" stroke-linecap="butt"/>
<line x1="76.97" y1="282" x2="76.97" y2="287" stroke="#000" stroke-width="1.7" stroke-linecap="butt"/>
<text x="76.97" y="302" font-family='"Liberation Sans", sans-serif' font-size="13.5" font-weight="bold" fill="#000" text-anchor="middle" stroke="#000" stroke-width="0.3">-1.2</text>
<line x1="97.85" y1="282" x2="97.85" y2="284.6" stroke="#000" stroke-width="1.7" stroke-linecap="butt"/>
<line x1="118.72" y1="282" x2="118.72" y2="287" stroke="#000" stroke-width="1.7" stroke-linecap="butt"/>
<text x="118.72" y="302" font-family='"Liberation Sans", sans-serif' font-size="13.5" font-weight="bold" fill="#000" text-anchor="middle" stroke="#000" stroke-width="0.3">-1.0</text>
<line x1="139.59" y1="282" x2="139.59" y2="284.6" stroke="#000" stroke-width="1.7" stroke-linecap="butt"/>
<line x1="160.47" y1="282" x2="160.47" y2="287" stroke="#000" stroke-width="1.7" stroke-linecap="butt"/>
<text x="160.47" y="302" font-family='"Liberation Sans", sans-serif' font-size="13.5" font-weight="bold" fill="#000" text-anchor="middle" stroke="#000" stroke-width="0.3">-0.8</text>
<line x1="181.34" y1="282" x2="181.34" y2="284.6" stroke="#000" stroke-width="1.7" stroke-linecap="butt"/>
<line x1="202.21" y1="282" x2="202.21" y2="287" stroke="#000" stroke-width="1.7" stroke-linecap="butt"/>
<text x="202.21" y="302" font-family='"Liberation Sans", sans-serif' font-size="13.5" font-weight="bold" fill="#000" text-anchor="middle" stroke="#000" stroke-width="0.3">-0.6</text>
<line x1="223.09" y1="282" x2="223.09" y2="284.6" stroke="#000" stroke-width="1.7" stroke-linecap="butt"/>
<line x1="243.96" y1="282" x2="243.96" y2="287" stroke="#000" stroke-width="1.7" stroke-linecap="butt"/>
<text x="243.96" y="302" font-family='"Liberation Sans", sans-serif' font-size="13.5" font-weight="bold" fill="#000" text-anchor="middle" stroke="#000" stroke-width="0.3">-0.4</text>
<line x1="264.83" y1="282" x2="264.83" y2="284.6" stroke="#000" stroke-width="1.7" stroke-linecap="butt"/>
<line x1="285.71" y1="282" x2="285.71" y2="287" stroke="#000" stroke-width="1.7" stroke-linecap="butt"/>
<text x="285.71" y="302" font-family='"Liberation Sans", sans-serif' font-size="13.5" font-weight="bold" fill="#000" text-anchor="middle" stroke="#000" stroke-width="0.3">-0.2</text>
<line x1="306.58" y1="282" x2="306.58" y2="284.6" stroke="#000" stroke-width="1.7" stroke-linecap="butt"/>
<line x1="327.45" y1="282" x2="327.45" y2="287" stroke="#000" stroke-width="1.7" stroke-linecap="butt"/>
<text x="327.45" y="302" font-family='"Liberation Sans", sans-serif' font-size="13.5" font-weight="bold" fill="#000" text-anchor="middle" stroke="#000" stroke-width="0.3">0.0</text>
<line x1="348.33" y1="282" x2="348.33" y2="284.6" stroke="#000" stroke-width="1.7" stroke-linecap="butt"/>
<line x1="369.2" y1="282" x2="369.2" y2="287" stroke="#000" stroke-width="1.7" stroke-linecap="butt"/>
<text x="369.2" y="302" font-family='"Liberation Sans", sans-serif' font-size="13.5" font-weight="bold" fill="#000" text-anchor="middle" stroke="#000" stroke-width="0.3">0.2</text>
<text transform="translate(13.2,155.4) rotate(-90)" font-family='"Liberation Sans", sans-serif' font-size="16.6" font-weight="bold" text-anchor="middle" x="0" y="0" stroke="#000" stroke-width="0.3">Current/μA</text>
<text x="212" y="327.7" font-family='"Liberation Sans", sans-serif' font-size="16.7" font-weight="bold" fill="#000" text-anchor="middle" stroke="#000" stroke-width="0.3">E/V Vs. Ag/AgCl</text>
<text x="298.4" y="145.8" font-family='"Liberation Sans", sans-serif' font-size="10.3" font-weight="bold" fill="#000" text-anchor="start" stroke="#000" stroke-width="0.3">10 mVs<tspan dx="1" dy="-6" font-size="7.5">-1</tspan></text>
<text x="297.4" y="231.3" font-family='"Liberation Sans", sans-serif' font-size="10.3" font-weight="bold" fill="#000" text-anchor="start" stroke="#000" stroke-width="0.3">200 mVs<tspan dx="1" dy="-6.5" font-size="7.5">-1</tspan></text>
<line x1="317.5" y1="153" x2="317.5" y2="211" stroke="#000" stroke-width="1.3" stroke-linecap="butt"/>
<path d="M315.4,210 L319.6,210 L317.5,218 Z" fill="#000"/>
<text x="400.2" y="18.6" font-family='"Liberation Serif", serif' font-size="17" font-weight="bold" fill="#d4101e" text-anchor="start">b)</text>
<line x1="475.44" y1="258.66" x2="747.04" y2="61.34" stroke="#ee0000" stroke-width="2.6" stroke-linecap="butt"/>
<line x1="476.44" y1="245.7" x2="476.44" y2="261.2" stroke="#333" stroke-width="0.9" stroke-linecap="butt"/>
<line x1="473.44" y1="261.2" x2="479.44" y2="261.2" stroke="#333" stroke-width="1.0" stroke-linecap="butt"/>
<rect x="473.74" y="250.53" width="5.4" height="5.4" fill="#000"/>
<line x1="533.41" y1="208.3" x2="533.41" y2="226" stroke="#333" stroke-width="0.9" stroke-linecap="butt"/>
<rect x="530.71" y="214.88" width="5.4" height="5.4" fill="#000"/>
<rect x="573.44" y="185.51" width="5.4" height="5.4" fill="#000"/>
<line x1="604.62" y1="159.9" x2="604.62" y2="182.2" stroke="#333" stroke-width="0.9" stroke-linecap="butt"/>
<line x1="601.62" y1="159.9" x2="607.62" y2="159.9" stroke="#222" stroke-width="1.0" stroke-linecap="butt"/>
<line x1="601.62" y1="182.2" x2="607.62" y2="182.2" stroke="#333" stroke-width="1.0" stroke-linecap="butt"/>
<rect x="601.92" y="168.73" width="5.4" height="5.4" fill="#000"/>
<line x1="630.1" y1="133.4" x2="636.1" y2="133.4" stroke="#333" stroke-width="1.0" stroke-linecap="butt"/>
<line x1="630.1" y1="157.8" x2="636.1" y2="157.8" stroke="#bbb" stroke-width="1.0" stroke-linecap="butt"/>
<rect x="630.4" y="143.56" width="5.4" height="5.4" fill="#000"/>
<line x1="675.83" y1="90.3" x2="675.83" y2="117.5" stroke="#333" stroke-width="0.9" stroke-linecap="butt"/>
<line x1="672.83" y1="90.3" x2="678.83" y2="90.3" stroke="#333" stroke-width="1.0" stroke-linecap="butt"/>
<line x1="672.83" y1="117.5" x2="678.83" y2="117.5" stroke="#333" stroke-width="1.0" stroke-linecap="butt"/>
<rect x="673.13" y="101.61" width="5.4" height="5.4" fill="#000"/>
<line x1="744.04" y1="77.2" x2="750.04" y2="77.2" stroke="#aaa" stroke-width="1.0" stroke-linecap="butt"/>
<rect x="744.34" y="59.66" width="5.4" height="5.4" fill="#000"/>
<rect x="461.9" y="28.8" width="314" height="251.7" fill="none" stroke="#000" stroke-width="1.9"/>
<line x1="456.9" y1="28.8" x2="461.9" y2="28.8" stroke="#000" stroke-width="1.7" stroke-linecap="butt"/>
<text x="452.9" y="32.63" font-family='"Liberation Sans", sans-serif' font-size="13.5" font-weight="bold" fill="#000" text-anchor="end" stroke="#000" stroke-width="0.3">-100</text>
<line x1="459.3" y1="49.77" x2="461.9" y2="49.77" stroke="#000" stroke-width="1.7" stroke-linecap="butt"/>
<line x1="456.9" y1="70.75" x2="461.9" y2="70.75" stroke="#000" stroke-width="1.7" stroke-linecap="butt"/>
<text x="452.9" y="74.58" font-family='"Liberation Sans", sans-serif' font-size="13.5" font-weight="bold" fill="#000" text-anchor="end" stroke="#000" stroke-width="0.3">-90</text>
<line x1="459.3" y1="91.72" x2="461.9" y2="91.72" stroke="#000" stroke-width="1.7" stroke-linecap="butt"/>
<line x1="456.9" y1="112.7" x2="461.9" y2="112.7" stroke="#000" stroke-width="1.7" stroke-linecap="butt"/>
<text x="452.9" y="116.53" font-family='"Liberation Sans", sans-serif' font-size="13.5" font-weight="bold" fill="#000" text-anchor="end" stroke="#000" stroke-width="0.3">-80</text>
<line x1="459.3" y1="133.68" x2="461.9" y2="133.68" stroke="#000" stroke-width="1.7" stroke-linecap="butt"/>
<line x1="456.9" y1="154.65" x2="461.9" y2="154.65" stroke="#000" stroke-width="1.7" stroke-linecap="butt"/>
<text x="452.9" y="158.48" font-family='"Liberation Sans", sans-serif' font-size="13.5" font-weight="bold" fill="#000" text-anchor="end" stroke="#000" stroke-width="0.3">-70</text>
<line x1="459.3" y1="175.62" x2="461.9" y2="175.62" stroke="#000" stroke-width="1.7" stroke-linecap="butt"/>
<line x1="456.9" y1="196.6" x2="461.9" y2="196.6" stroke="#000" stroke-width="1.7" stroke-linecap="butt"/>
<text x="452.9" y="200.43" font-family='"Liberation Sans", sans-serif' font-size="13.5" font-weight="bold" fill="#000" text-anchor="end" stroke="#000" stroke-width="0.3">-60</text>
<line x1="459.3" y1="217.57" x2="461.9" y2="217.57" stroke="#000" stroke-width="1.7" stroke-linecap="butt"/>
<line x1="456.9" y1="238.55" x2="461.9" y2="238.55" stroke="#000" stroke-width="1.7" stroke-linecap="butt"/>
<text x="452.9" y="242.38" font-family='"Liberation Sans", sans-serif' font-size="13.5" font-weight="bold" fill="#000" text-anchor="end" stroke="#000" stroke-width="0.3">-50</text>
<line x1="459.3" y1="259.52" x2="461.9" y2="259.52" stroke="#000" stroke-width="1.7" stroke-linecap="butt"/>
<line x1="456.9" y1="280.5" x2="461.9" y2="280.5" stroke="#000" stroke-width="1.7" stroke-linecap="butt"/>
<text x="452.9" y="284.33" font-family='"Liberation Sans", sans-serif' font-size="13.5" font-weight="bold" fill="#000" text-anchor="end" stroke="#000" stroke-width="0.3">-40</text>
<line x1="462.2" y1="280.5" x2="462.2" y2="285.5" stroke="#000" stroke-width="1.7" stroke-linecap="butt"/>
<text x="462.2" y="296.7" font-family='"Liberation Sans", sans-serif' font-size="13.3" font-weight="bold" fill="#000" text-anchor="middle" stroke="#000" stroke-width="0.3">0</text>
<line x1="497.81" y1="280.5" x2="497.81" y2="283.1" stroke="#000" stroke-width="1.7" stroke-linecap="butt"/>
<line x1="533.41" y1="280.5" x2="533.41" y2="285.5" stroke="#000" stroke-width="1.7" stroke-linecap="butt"/>
<text x="533.41" y="296.7" font-family='"Liberation Sans", sans-serif' font-size="13.3" font-weight="bold" fill="#000" text-anchor="middle" stroke="#000" stroke-width="0.3">50</text>
<line x1="569.01" y1="280.5" x2="569.01" y2="283.1" stroke="#000" stroke-width="1.7" stroke-linecap="butt"/>
<line x1="604.62" y1="280.5" x2="604.62" y2="285.5" stroke="#000" stroke-width="1.7" stroke-linecap="butt"/>
<text x="604.62" y="296.7" font-family='"Liberation Sans", sans-serif' font-size="13.3" font-weight="bold" fill="#000" text-anchor="middle" stroke="#000" stroke-width="0.3">100</text>
<line x1="640.22" y1="280.5" x2="640.22" y2="283.1" stroke="#000" stroke-width="1.7" stroke-linecap="butt"/>
<line x1="675.83" y1="280.5" x2="675.83" y2="285.5" stroke="#000" stroke-width="1.7" stroke-linecap="butt"/>
<text x="675.83" y="296.7" font-family='"Liberation Sans", sans-serif' font-size="13.3" font-weight="bold" fill="#000" text-anchor="middle" stroke="#000" stroke-width="0.3">150</text>
<line x1="711.43" y1="280.5" x2="711.43" y2="283.1" stroke="#000" stroke-width="1.7" stroke-linecap="butt"/>
<line x1="747.04" y1="280.5" x2="747.04" y2="285.5" stroke="#000" stroke-width="1.7" stroke-linecap="butt"/>
<text x="747.04" y="296.7" font-family='"Liberation Sans", sans-serif' font-size="13.3" font-weight="bold" fill="#000" text-anchor="middle" stroke="#000" stroke-width="0.3">200</text>
<text transform="translate(418.9,153.9) rotate(-90)" font-family='"Liberation Sans", sans-serif' font-size="16.4" font-weight="bold" text-anchor="middle" x="0" y="0" stroke="#000" stroke-width="0.3">Current/μA</text>
<text x="553.2" y="317.4" font-family='"Liberation Sans", sans-serif' font-size="16.8" font-weight="bold" fill="#000" text-anchor="start" stroke="#000" stroke-width="0.3">Scan rate mV/s</text>
<text x="495.4" y="72.6" font-family='"Liberation Sans", sans-serif' font-size="10.75" font-weight="bold" fill="#000" text-anchor="start" stroke="#000" stroke-width="0.3">y = -0.2468x - 42.882</text>
<text x="495.4" y="91.8" font-family='"Liberation Sans", sans-serif' font-size="10.6" font-weight="bold" fill="#000" text-anchor="start" stroke="#000" stroke-width="0.3">R<tspan dx="0.8" dy="-6" font-size="7.6">2</tspan><tspan dy="6"> = 0.9932</tspan></text>
<text x="13.2" y="357.7" font-family='"Liberation Serif", serif' font-size="17" font-weight="bold" fill="#d4101e" text-anchor="start">c)</text>
<path d="M58.5,617.5 58.9,616.1 59.3,614.6 59.7,613.2 60.2,611.7 60.6,610.3 61,608.9 61.5,607.4 61.9,606 62.3,604.6 62.8,603.1 63.3,601.7 63.7,600.3 64.2,598.8 64.6,597.4 65.1,596 65.5,594.5 66,593.1 66.4,591.7 66.9,590.2 67.3,588.8 67.7,587.4 68.2,585.9 68.6,584.5 69.1,583.1 69.6,581.7 70.1,580.2 70.6,578.8 71.1,577.4 71.6,576 72.1,574.6 72.6,573.2 73.1,571.8 73.7,570.4 74.2,569 74.8,567.6 75.4,566.2 75.9,564.8 76.5,563.4 77.1,562.1 77.7,560.7 78.3,559.3 78.9,557.9 79.5,556.6 80.2,555.2 80.8,553.8 81.4,552.5 82.1,551.1 82.7,549.8 83.4,548.4 84,547.1 84.7,545.7 85.4,544.4 86.1,543.1 86.8,541.7 87.5,540.4 88.2,539.1 89,537.8 89.7,536.5 90.5,535.2 91.3,533.9 92.1,532.7 92.9,531.4 93.7,530.2 94.6,528.9 95.4,527.7 96.3,526.4 97.1,525.2 98,524 98.9,522.8 99.8,521.6 100.8,520.4 101.7,519.3 102.6,518.1 103.6,516.9 104.5,515.7 105.5,514.6 106.4,513.5 107.4,512.3 108.5,511.3 109.5,510.2 110.6,509.2 111.8,508.2 112.9,507.2 114,506.3 115.2,505.3 116.3,504.3 117.5,503.3 118.6,502.4 119.7,501.4 120.9,500.4 122.1,499.5 123.2,498.6 124.5,497.7 125.7,496.9 127,496.1 128.3,495.4 129.6,494.7 130.9,494 132.3,493.3 133.6,492.7 135,492 136.3,491.4 137.7,490.7 139,490.1 140.4,489.4 141.8,488.8 143.1,488.1 144.5,487.5 145.8,486.8 147.1,486.1 148.5,485.5 149.8,484.8 151.2,484.2 152.5,483.5 153.9,482.8 155.2,482.1 156.5,481.4 157.9,480.7 159.2,480 160.5,479.3 161.8,478.6 163.1,477.9 164.5,477.1 165.8,476.4 167.1,475.7 168.5,475.1 169.8,474.4 171.2,473.8 172.5,473.2 173.9,472.5 175.3,471.9 176.6,471.3 178,470.7 179.4,470.1 180.7,469.5 182.1,468.9 183.5,468.3 184.9,467.7 186.3,467.2 187.7,466.6 189.1,466 190.5,465.5 191.9,465 193.3,464.4 194.7,463.9 196.1,463.5 197.5,463.1 199,462.7 200.4,462.3 201.9,461.9 203.4,461.6 204.8,461.4 206.3,461.1 207.8,460.9 209.3,460.7 210.8,460.5 212.3,460.3 213.8,460.2 215.2,460 216.7,459.9 218.2,459.8 219.7,459.7 221.2,459.6 222.7,459.6 224.2,459.5 225.7,459.4 227.2,459.3 228.7,459.2 230.2,459.1 231.7,458.9 233.2,458.8 234.7,458.6 236.2,458.5 237.7,458.3 239.2,458.1 240.7,458 242.2,457.8 243.6,457.6 245.1,457.4 246.6,457.2 248.1,457 249.6,456.8 251.1,456.6 252.6,456.4 254,456.1 255.5,455.9 257,455.7 258.5,455.4 260,455.2 261.5,455 262.9,454.7 264.4,454.5 265.9,454.3 267.4,454 268.9,453.8 270.4,453.6 271.8,453.3 273.3,453.1 274.8,452.8 276.3,452.6 277.8,452.3 279.2,452.1 280.7,451.8 282.2,451.5 283.7,451.2 285.1,450.9 286.6,450.6 288.1,450.3 289.5,450 291,449.6 292.5,449.3 293.9,449 295.4,448.6 296.8,448.3 298.3,447.9 299.7,447.6 301.2,447.2 302.7,446.8 304.1,446.5 305.6,446.1 307,445.7 308.5,445.4 309.9,445 311.4,444.6 312.8,444.2 314.3,443.8 315.7,443.4 317.2,443 318.6,442.6 320,442.1 321.5,441.7 322.9,441.3 324.4,440.8 325.8,440.4 327.2,439.9 328.6,439.4 330.1,439 331.5,438.5 332.9,438 334.3,437.5 335.7,437 337.1,436.5 338.5,436 339.9,435.4 341.3,434.9 342.7,434.3 344.1,433.8 345.5,433.2 346.9,432.6 348.3,432.1 349.7,431.5 351.1,430.9 352.5,430.3 353.9,429.8 355.2,429.2 356.6,428.6 358,428.1 359.4,427.5 360.8,426.9 362.2,426.4 363.6,425.8 365,425.2 366.4,424.7 367.8,424.1 369.1,423.6 370.5,423 371,422.8" fill="none" stroke="#515151" stroke-width="1.6" stroke-linejoin="round" stroke-linecap="round"/>
<path d="M58.5,618.8 58.9,617.4 59.3,615.9 59.8,614.5 60.2,613 60.6,611.6 61,610.2 61.5,608.7 61.9,607.3 62.3,605.8 62.8,604.4 63.2,603 63.6,601.5 64.1,600.1 64.5,598.7 65,597.2 65.4,595.8 65.8,594.4 66.3,592.9 66.7,591.5 67.2,590 67.6,588.6 68,587.2 68.5,585.8 69,584.3 69.4,582.9 69.9,581.5 70.4,580.1 70.9,578.6 71.4,577.2 71.9,575.8 72.4,574.4 73,573 73.5,571.6 74.1,570.2 74.6,568.8 75.2,567.4 75.8,566 76.3,564.6 76.9,563.3 77.5,561.9 78.1,560.5 78.7,559.1 79.3,557.8 80,556.4 80.6,555 81.2,553.7 81.9,552.3 82.5,551 83.2,549.6 83.8,548.3 84.5,546.9 85.2,545.6 85.9,544.2 86.6,542.9 87.3,541.6 88,540.3 88.7,539 89.5,537.7 90.3,536.4 91.1,535.1 91.9,533.9 92.7,532.6 93.5,531.3 94.4,530.1 95.2,528.9 96.1,527.6 96.9,526.4 97.8,525.2 98.7,524 99.6,522.8 100.5,521.6 101.4,520.4 102.3,519.2 103.3,518 104.2,516.9 105.1,515.7 106.1,514.6 107.1,513.4 108.1,512.4 109.2,511.3 110.3,510.3 111.4,509.3 112.6,508.3 113.7,507.3 114.8,506.4 116,505.4 117.1,504.4 118.2,503.4 119.4,502.4 120.5,501.5 121.7,500.5 122.9,499.6 124.1,498.7 125.3,497.9 126.6,497.1 127.8,496.3 129.2,495.6 130.5,494.9 131.8,494.2 133.2,493.5 134.5,492.9 135.9,492.3 137.2,491.6 138.6,491 140,490.4 141.3,489.7 142.7,489.1 144.1,488.5 145.4,487.9 146.8,487.2 148.2,486.6 149.5,486 150.9,485.4 152.3,484.8 153.6,484.1 155,483.5 156.3,482.9 157.7,482.2 159,481.5 160.4,480.9 161.7,480.2 163.1,479.5 164.4,478.9 165.8,478.2 167.1,477.5 168.5,476.9 169.8,476.2 171.2,475.6 172.5,474.9 173.9,474.3 175.2,473.7 176.6,473.1 178,472.5 179.4,471.9 180.8,471.3 182.2,470.8 183.6,470.3 185,469.9 186.5,469.5 187.9,469.1 189.4,468.7 190.8,468.4 192.3,468.1 193.8,467.8 195.2,467.5 196.7,467.2 198.2,466.9 199.7,466.6 201.1,466.4 202.6,466.1 204.1,465.8 205.6,465.5 207,465.3 208.5,465 210,464.8 211.5,464.5 213,464.3 214.5,464.1 215.9,463.9 217.4,463.7 218.9,463.5 220.4,463.4 221.9,463.2 223.4,463 224.9,462.9 226.4,462.7 227.9,462.5 229.4,462.3 230.8,462.1 232.3,461.9 233.8,461.7 235.3,461.5 236.8,461.3 238.3,461.1 239.8,460.9 241.3,460.7 242.7,460.5 244.2,460.3 245.7,460.1 247.2,459.8 248.7,459.6 250.2,459.3 251.6,459.1 253.1,458.8 254.6,458.6 256.1,458.3 257.6,458.1 259,457.8 260.5,457.5 262,457.2 263.5,457 264.9,456.7 266.4,456.4 267.9,456.1 269.4,455.9 270.8,455.6 272.3,455.3 273.8,455 275.3,454.7 276.7,454.4 278.2,454.1 279.7,453.8 281.1,453.5 282.6,453.2 284.1,452.9 285.5,452.5 287,452.2 288.5,451.9 289.9,451.6 291.4,451.2 292.9,450.9 294.3,450.5 295.8,450.2 297.2,449.8 298.7,449.4 300.1,449 301.6,448.6 303,448.1 304.4,447.7 305.9,447.2 307.3,446.7 308.7,446.2 310.1,445.7 311.5,445.2 312.9,444.7 314.4,444.2 315.8,443.8 317.2,443.3 318.6,442.8 320.1,442.3 321.5,441.8 322.9,441.4 324.3,440.9 325.8,440.5 327.2,440 328.6,439.5 330,439.1 331.5,438.6 332.9,438.1 334.3,437.6 335.7,437.1 337.1,436.6 338.5,436.1 339.9,435.5 341.3,435 342.7,434.4 344.1,433.9 345.5,433.3 346.9,432.7 348.3,432.2 349.7,431.6 351.1,431 352.5,430.4 353.8,429.9 355.2,429.3 356.6,428.7 358,428.2 359.4,427.6 360.8,427 362.2,426.5 363.6,425.9 365,425.3 366.4,424.8 367.8,424.2 369.1,423.7 370.5,423.1 371,422.9" fill="none" stroke="#F14040" stroke-width="1.6" stroke-linejoin="round" stroke-linecap="round"/>
<path d="M58.5,613.6 58.9,612.1 59.3,610.7 59.6,609.2 60,607.8 60.4,606.3 60.8,604.9 61.2,603.4 61.6,602 62,600.5 62.4,599.1 62.8,597.7 63.2,596.2 63.6,594.8 64.1,593.3 64.5,591.9 64.9,590.5 65.4,589 65.8,587.6 66.3,586.2 66.7,584.7 67.2,583.3 67.7,581.9 68.2,580.5 68.7,579 69.2,577.6 69.7,576.2 70.2,574.8 70.7,573.4 71.3,572 71.8,570.6 72.4,569.2 72.9,567.8 73.4,566.4 74,565 74.5,563.6 75.1,562.2 75.6,560.8 76.2,559.4 76.7,558 77.3,556.6 77.9,555.2 78.5,553.8 79.1,552.5 79.7,551.1 80.4,549.8 81,548.4 81.7,547.1 82.4,545.7 83,544.4 83.7,543.1 84.4,541.7 85.1,540.4 85.8,539 86.5,537.7 87.1,536.4 87.8,535 88.5,533.7 89.2,532.4 89.9,531.1 90.7,529.7 91.4,528.4 92.2,527.2 93,525.9 93.8,524.6 94.7,523.4 95.5,522.2 96.4,520.9 97.3,519.7 98.1,518.5 99,517.3 99.9,516 100.7,514.8 101.6,513.6 102.5,512.4 103.5,511.2 104.4,510.1 105.4,508.9 106.3,507.8 107.3,506.7 108.4,505.6 109.4,504.5 110.5,503.4 111.6,502.4 112.6,501.4 113.7,500.3 114.8,499.3 115.9,498.3 117,497.3 118.1,496.2 119.2,495.2 120.4,494.2 121.5,493.3 122.7,492.3 123.8,491.4 125.1,490.5 126.3,489.7 127.5,488.8 128.8,488 130.1,487.3 131.4,486.5 132.7,485.8 134,485.1 135.4,484.4 136.7,483.7 138,483 139.4,482.3 140.7,481.6 142,480.9 143.4,480.3 144.7,479.6 146.1,479 147.4,478.3 148.8,477.7 150.2,477 151.5,476.4 152.9,475.8 154.3,475.2 155.6,474.6 157,474 158.4,473.5 159.8,472.9 161.2,472.4 162.6,471.9 164,471.3 165.4,470.8 166.9,470.3 168.3,469.8 169.7,469.2 171.1,468.7 172.5,468.2 173.9,467.6 175.3,467.1 176.7,466.5 178.1,466 179.5,465.5 180.9,465 182.3,464.6 183.8,464.1 185.2,463.7 186.6,463.3 188.1,462.9 189.5,462.5 191,462.1 192.5,461.8 193.9,461.4 195.4,461.1 196.9,460.8 198.3,460.6 199.8,460.3 201.3,460 202.8,459.8 204.3,459.6 205.8,459.4 207.3,459.2 208.7,459.1 210.2,458.9 211.7,458.8 213.2,458.7 214.7,458.6 216.2,458.6 217.7,458.5 219.2,458.5 220.7,458.5 222.2,458.5 223.7,458.5 225.2,458.5 226.7,458.5 228.2,458.4 229.7,458.4 231.2,458.3 232.7,458.2 234.2,458.2 235.7,458.1 237.2,458 238.7,457.9 240.2,457.7 241.7,457.6 243.2,457.5 244.7,457.3 246.2,457.1 247.7,456.9 249.2,456.7 250.7,456.4 252.1,456.2 253.6,455.9 255.1,455.6 256.6,455.4 258,455.1 259.5,454.9 261,454.7 262.5,454.5 264,454.3 265.5,454.1 267,453.9 268.5,453.7 269.9,453.5 271.4,453.3 272.9,453.2 274.4,453 275.9,452.8 277.4,452.6 278.9,452.4 280.4,452.3 281.9,452.1 283.4,451.9 284.9,451.7 286.3,451.5 287.8,451.3 289.3,451.1 290.8,450.9 292.3,450.7 293.8,450.5 295.3,450.3 296.8,450 298.2,449.8 299.7,449.5 301.2,449.2 302.6,448.9 304.1,448.6 305.6,448.2 307,447.9 308.5,447.5 310,447.2 311.4,446.8 312.9,446.4 314.3,446 315.8,445.7 317.2,445.3 318.7,444.9 320.1,444.5 321.6,444 323,443.6 324.4,443.2 325.9,442.8 327.3,442.4 328.8,441.9 330.2,441.5 331.6,441 333.1,440.6 334.5,440.1 335.9,439.6 337.3,439.1 338.7,438.6 340.2,438.1 341.6,437.6 343,437.1 344.4,436.6 345.8,436.1 347.2,435.5 348.6,435 350,434.4 351.4,433.9 352.8,433.4 354.2,432.8 355.6,432.3 357,431.7 358.4,431.2 359.8,430.7 361.2,430.1 362.6,429.6 364,429 365.4,428.5 366.8,427.9 368.2,427.4 369.6,426.8 371,426.3" fill="none" stroke="#1A6FDF" stroke-width="1.6" stroke-linejoin="round" stroke-linecap="round"/>
<path d="M58.5,596 59,594.6 59.4,593.1 59.9,591.7 60.4,590.3 60.8,588.8 61.2,587.4 61.7,586 62.1,584.5 62.5,583.1 62.9,581.6 63.3,580.2 63.7,578.8 64.1,577.3 64.6,575.9 65,574.4 65.4,573 65.9,571.6 66.4,570.1 66.8,568.7 67.3,567.3 67.8,565.9 68.2,564.4 68.7,563 69.2,561.6 69.7,560.2 70.3,558.8 70.8,557.4 71.3,556 71.9,554.6 72.4,553.2 73,551.8 73.6,550.4 74.2,549.1 74.9,547.7 75.5,546.3 76.2,545 76.9,543.7 77.6,542.3 78.3,541 79,539.7 79.7,538.4 80.4,537 81.1,535.7 81.9,534.4 82.6,533.1 83.3,531.8 84.1,530.5 84.8,529.2 85.5,527.8 86.2,526.5 86.9,525.2 87.7,523.9 88.4,522.6 89.2,521.3 90,520 90.8,518.8 91.6,517.5 92.5,516.3 93.4,515.1 94.4,514 95.3,512.8 96.3,511.7 97.2,510.5 98.2,509.4 99.2,508.2 100.2,507.1 101.2,506 102.1,504.8 103.2,503.7 104.2,502.6 105.2,501.5 106.2,500.4 107.3,499.4 108.4,498.3 109.5,497.3 110.6,496.3 111.8,495.4 113,494.5 114.2,493.6 115.4,492.7 116.6,491.8 117.8,491 119.1,490.2 120.4,489.4 121.6,488.6 122.9,487.8 124.2,487 125.5,486.3 126.8,485.6 128.2,484.8 129.5,484.1 130.8,483.4 132.2,482.8 133.5,482.1 134.8,481.4 136.2,480.8 137.6,480.1 138.9,479.5 140.3,478.8 141.6,478.2 143,477.6 144.4,477 145.7,476.3 147.1,475.7 148.5,475.1 149.8,474.5 151.2,473.9 152.6,473.3 154,472.7 155.3,472 156.7,471.4 158,470.8 159.4,470.1 160.7,469.5 162.1,468.8 163.5,468.2 164.8,467.6 166.2,467 167.6,466.4 169,465.8 170.4,465.3 171.8,464.8 173.2,464.3 174.6,463.8 176.1,463.3 177.5,462.9 178.9,462.5 180.4,462 181.8,461.6 183.3,461.2 184.7,460.8 186.2,460.5 187.6,460.1 189.1,459.7 190.5,459.4 192,459.1 193.5,458.8 194.9,458.5 196.4,458.2 197.9,457.9 199.4,457.7 200.9,457.5 202.4,457.3 203.8,457.1 205.3,456.9 206.8,456.8 208.3,456.7 209.8,456.6 211.3,456.5 212.8,456.4 214.3,456.4 215.8,456.3 217.3,456.3 218.8,456.3 220.3,456.4 221.8,456.4 223.3,456.4 224.8,456.4 226.3,456.5 227.8,456.5 229.3,456.5 230.8,456.4 232.3,456.4 233.8,456.4 235.3,456.4 236.8,456.3 238.3,456.3 239.8,456.2 241.3,456.1 242.8,456.1 244.3,456 245.8,455.9 247.3,455.8 248.8,455.6 250.3,455.5 251.8,455.3 253.3,455.2 254.8,455 256.3,454.8 257.8,454.6 259.3,454.5 260.8,454.3 262.3,454.1 263.7,453.9 265.2,453.7 266.7,453.5 268.2,453.3 269.7,453.1 271.2,452.9 272.7,452.7 274.2,452.5 275.7,452.3 277.1,452.1 278.6,451.9 280.1,451.7 281.6,451.5 283.1,451.3 284.6,451.1 286.1,450.9 287.6,450.7 289,450.4 290.5,450.2 292,450 293.5,449.7 295,449.5 296.5,449.2 297.9,449 299.4,448.7 300.9,448.4 302.3,448.1 303.8,447.7 305.3,447.4 306.7,447.1 308.2,446.7 309.7,446.4 311.1,446 312.6,445.6 314,445.2 315.5,444.8 316.9,444.4 318.4,444 319.8,443.6 321.2,443.2 322.7,442.7 324.1,442.3 325.5,441.9 327,441.4 328.4,440.9 329.8,440.5 331.3,440 332.7,439.5 334.1,439 335.5,438.5 336.9,438 338.3,437.5 339.7,436.9 341.1,436.4 342.5,435.8 343.9,435.3 345.3,434.7 346.7,434.2 348.1,433.6 349.5,433 350.9,432.4 352.2,431.8 353.6,431.3 355,430.7 356.4,430.1 357.8,429.5 359.1,428.9 360.5,428.2 361.9,427.6 363.3,427 364.6,426.4 366,425.8 367.4,425.2 368.7,424.5 370.1,423.9 371,423.5" fill="none" stroke="#37AD6B" stroke-width="1.6" stroke-linejoin="round" stroke-linecap="round"/>
<rect x="58.3" y="377.2" width="313.2" height="252" fill="none" stroke="#000" stroke-width="1.9"/>
<line x1="53.3" y1="603.35" x2="58.3" y2="603.35" stroke="#000" stroke-width="1.7" stroke-linecap="butt"/>
<text x="48.5" y="608.12" font-family='"Liberation Sans", sans-serif' font-size="13.3" font-weight="bold" fill="#000" text-anchor="end" stroke="#000" stroke-width="0.3">-150</text>
<line x1="55.7" y1="571.05" x2="58.3" y2="571.05" stroke="#000" stroke-width="1.7" stroke-linecap="butt"/>
<line x1="53.3" y1="538.74" x2="58.3" y2="538.74" stroke="#000" stroke-width="1.7" stroke-linecap="butt"/>
<text x="48.5" y="543.5" font-family='"Liberation Sans", sans-serif' font-size="13.3" font-weight="bold" fill="#000" text-anchor="end" stroke="#000" stroke-width="0.3">-100</text>
<line x1="55.7" y1="506.43" x2="58.3" y2="506.43" stroke="#000" stroke-width="1.7" stroke-linecap="butt"/>
<line x1="53.3" y1="474.12" x2="58.3" y2="474.12" stroke="#000" stroke-width="1.7" stroke-linecap="butt"/>
<text x="48.5" y="478.88" font-family='"Liberation Sans", sans-serif' font-size="13.3" font-weight="bold" fill="#000" text-anchor="end" stroke="#000" stroke-width="0.3">-50</text>
<line x1="55.7" y1="441.82" x2="58.3" y2="441.82" stroke="#000" stroke-width="1.7" stroke-linecap="butt"/>
<line x1="53.3" y1="409.51" x2="58.3" y2="409.51" stroke="#000" stroke-width="1.7" stroke-linecap="butt"/>
<text x="48.5" y="414.27" font-family='"Liberation Sans", sans-serif' font-size="13.3" font-weight="bold" fill="#000" text-anchor="end" stroke="#000" stroke-width="0.3">0</text>
<line x1="55.7" y1="377.2" x2="58.3" y2="377.2" stroke="#000" stroke-width="1.7" stroke-linecap="butt"/>
<line x1="58.3" y1="629.2" x2="58.3" y2="634.2" stroke="#000" stroke-width="1.7" stroke-linecap="butt"/>
<text x="58.3" y="649.2" font-family='"Liberation Sans", sans-serif' font-size="13.3" font-weight="bold" fill="#000" text-anchor="middle" stroke="#000" stroke-width="0.3">-1.4</text>
<line x1="89.62" y1="629.2" x2="89.62" y2="631.8" stroke="#000" stroke-width="1.7" stroke-linecap="butt"/>
<line x1="120.94" y1="629.2" x2="120.94" y2="634.2" stroke="#000" stroke-width="1.7" stroke-linecap="butt"/>
<text x="120.94" y="649.2" font-family='"Liberation Sans", sans-serif' font-size="13.3" font-weight="bold" fill="#000" text-anchor="middle" stroke="#000" stroke-width="0.3">-1.2</text>
<line x1="152.26" y1="629.2" x2="152.26" y2="631.8" stroke="#000" stroke-width="1.7" stroke-linecap="butt"/>
<line x1="183.58" y1="629.2" x2="183.58" y2="634.2" stroke="#000" stroke-width="1.7" stroke-linecap="butt"/>
<text x="183.58" y="649.2" font-family='"Liberation Sans", sans-serif' font-size="13.3" font-weight="bold" fill="#000" text-anchor="middle" stroke="#000" stroke-width="0.3">-1.0</text>
<line x1="214.9" y1="629.2" x2="214.9" y2="631.8" stroke="#000" stroke-width="1.7" stroke-linecap="butt"/>
<line x1="246.22" y1="629.2" x2="246.22" y2="634.2" stroke="#000" stroke-width="1.7" stroke-linecap="butt"/>
<text x="246.22" y="649.2" font-family='"Liberation Sans", sans-serif' font-size="13.3" font-weight="bold" fill="#000" text-anchor="middle" stroke="#000" stroke-width="0.3">-0.8</text>
<line x1="277.54" y1="629.2" x2="277.54" y2="631.8" stroke="#000" stroke-width="1.7" stroke-linecap="butt"/>
<line x1="308.86" y1="629.2" x2="308.86" y2="634.2" stroke="#000" stroke-width="1.7" stroke-linecap="butt"/>
<text x="308.86" y="649.2" font-family='"Liberation Sans", sans-serif' font-size="13.3" font-weight="bold" fill="#000" text-anchor="middle" stroke="#000" stroke-width="0.3">-0.6</text>
<line x1="340.18" y1="629.2" x2="340.18" y2="631.8" stroke="#000" stroke-width="1.7" stroke-linecap="butt"/>
<line x1="371.5" y1="629.2" x2="371.5" y2="634.2" stroke="#000" stroke-width="1.7" stroke-linecap="butt"/>
<text x="371.5" y="649.2" font-family='"Liberation Sans", sans-serif' font-size="13.3" font-weight="bold" fill="#000" text-anchor="middle" stroke="#000" stroke-width="0.3">-0.4</text>
<text transform="translate(14,502.2) rotate(-90)" font-family='"Liberation Sans", sans-serif' font-size="16.3" font-weight="bold" text-anchor="middle" x="0" y="0" stroke="#000" stroke-width="0.3">Current/μA</text>
<text x="214.8" y="674.3" font-family='"Liberation Sans", sans-serif' font-size="16.8" font-weight="bold" fill="#000" text-anchor="middle" stroke="#000" stroke-width="0.3">E/V Vs. Ag/AgCl</text>
<text x="67.8" y="393.7" font-family='"Liberation Sans", sans-serif' font-size="8.6" font-weight="bold" fill="#000" text-anchor="start" stroke="#000" stroke-width="0.3">0.1 μM</text>
<line x1="68.6" y1="385.6" x2="70.9" y2="385.6" stroke="#f08aa0" stroke-width="1.0" stroke-linecap="butt"/>
<text x="73.4" y="482.5" font-family='"Liberation Sans", sans-serif' font-size="8.6" font-weight="bold" fill="#000" text-anchor="start" stroke="#000" stroke-width="0.3">1 μM</text>
<line x1="83.6" y1="398" x2="83.6" y2="463.8" stroke="#000" stroke-width="1.3" stroke-linecap="butt"/>
<path d="M81.5,462.8 L85.7,462.8 L83.6,470.8 Z" fill="#000"/>
<text x="430" y="362.7" font-family='"Liberation Serif", serif' font-size="17" font-weight="bold" fill="#d4101e" text-anchor="start">d)</text>
<path d="M466.4,497.5 467.3,496.3 468.3,495.2 469.3,494 470.2,492.9 471.3,491.8 472.3,490.7 473.3,489.6 474.4,488.5 475.4,487.5 476.5,486.4 477.6,485.4 478.7,484.4 479.8,483.4 481,482.4 482.2,481.5 483.4,480.6 484.6,479.8 485.8,478.9 487.1,478.1 488.3,477.3 489.6,476.5 490.9,475.7 492.1,474.9 493.4,474.1 494.7,473.4 496,472.6 497.3,471.9 498.7,471.2 500,470.5 501.3,469.8 502.7,469.1 504,468.5 505.4,467.8 506.8,467.2 508.1,466.6 509.5,466.1 510.9,465.5 512.3,465 513.7,464.4 515.1,463.9 516.5,463.5 518,463 519.4,462.5 520.8,462.1 522.3,461.7 523.7,461.3 525.2,460.9 526.6,460.5 528.1,460.1 529.5,459.7 531,459.3 532.4,458.9 533.9,458.6 535.3,458.2 536.8,457.8 538.2,457.5 539.7,457.1 541.2,456.8 542.6,456.4 544.1,456 545.5,455.7 547,455.3 548.4,455 549.9,454.6 551.4,454.3 552.8,454 554.3,453.8 555.8,453.5 557.3,453.4 558.8,453.2 560.3,453.1 561.8,453 563.3,452.9 564.8,452.8 566.3,452.7 567.8,452.7 569.3,452.6 570.8,452.6 572.3,452.6 573.8,452.6 575.3,452.6 576.8,452.6 578.3,452.6 579.8,452.6 581.3,452.7 582.8,452.8 584.3,452.9 585.8,453 587.3,453.1 588.8,453.2 590.2,453.3 591.7,453.4 593.2,453.5 594.7,453.6 596.2,453.7 597.7,453.8 599.2,453.8 600.7,453.9 602.2,454 603.7,454.1 605.2,454.2 606.7,454.3 608.2,454.5 609.7,454.6 611.2,454.7 612.7,454.8 614.2,455 615.7,455.1 617.2,455.2 618.7,455.3 620.2,455.4 621.7,455.4 623.2,455.3 624.7,455.2 626.1,455.1 627.6,454.8 629.1,454.5 630.5,454.1 631.9,453.7 633.4,453.3 634.8,452.9 636.2,452.4 637.7,452 639.1,451.5 640.5,451 642,450.6 643.4,450.1 644.8,449.6 646.2,449.2 647.7,448.7 649.1,448.3 650.5,447.8 652,447.3 653.4,446.9 654.8,446.4 656.2,446 657.7,445.5 659.1,445 660.5,444.6 662,444.1 663.4,443.6 664.8,443.2 666.2,442.7 667.7,442.3 669.1,441.8 670.5,441.3 671.9,440.9 673.4,440.4 674.8,439.9 676.2,439.4 677.6,439 679.1,438.5 680.5,438 681.9,437.6 683.4,437.1 684.8,436.7 686.2,436.2 687.6,435.8 689.1,435.3 690.5,434.9 692,434.4 693.4,434 694.8,433.5 696.3,433.1 697.7,432.6 699.1,432.2 700.5,431.7 702,431.2 703.4,430.7 704.8,430.2 706.2,429.7 707.6,429.2 709,428.7 710.4,428.2 711.8,427.6 713.2,427.1 714.6,426.6 716,426 717.4,425.5 718.8,424.9 720.2,424.4 721.6,423.8 723,423.2 724.4,422.6 725.8,422 727.1,421.4 728.5,420.9 729.9,420.3 731.3,419.7 732.7,419.1 734,418.5 735.4,417.9 736.8,417.3 738.2,416.7 739.6,416.2 741,415.6 742.3,415 743.7,414.4 745.1,413.9 746.5,413.3 747.9,412.8 749.3,412.2 750.7,411.7 752.1,411.1 753.5,410.6 754.9,410.1 756.3,409.6 757.8,409.1 759.2,408.6 760.6,408.2 762.1,407.8 763.5,407.4 764.9,407 766.4,406.6 767.8,406.2 769.3,405.8 770.8,405.4 772.2,405.1 773.7,404.7 775.1,404.4 776.6,404 778,403.7 779.5,403.3" fill="none" stroke="#515151" stroke-width="1.7" stroke-linejoin="round" stroke-linecap="round"/>
<path d="M466.4,507.2 467.3,506 468.3,504.8 469.2,503.7 470.3,502.6 471.3,501.5 472.4,500.5 473.5,499.4 474.6,498.4 475.7,497.4 476.8,496.4 477.9,495.5 479.1,494.5 480.3,493.6 481.5,492.6 482.7,491.7 483.9,490.9 485.1,490 486.4,489.2 487.6,488.4 488.9,487.6 490.2,486.9 491.5,486.2 492.9,485.5 494.2,484.8 495.6,484.2 496.9,483.6 498.3,483 499.7,482.4 501.1,481.8 502.5,481.2 503.9,480.7 505.3,480.2 506.7,479.7 508.1,479.2 509.6,478.8 511,478.3 512.4,477.9 513.9,477.5 515.3,477.1 516.8,476.7 518.2,476.3 519.7,475.9 521.1,475.6 522.6,475.2 524.1,474.9 525.5,474.6 527,474.3 528.5,474 530,473.8 531.5,473.5 532.9,473.3 534.4,473.1 535.9,472.9 537.4,472.7 538.9,472.5 540.4,472.4 541.9,472.2 543.4,472.1 544.9,472 546.4,471.9 547.9,471.8 549.4,471.7 550.9,471.7 552.4,471.6 553.9,471.6 555.4,471.6 556.9,471.6 558.4,471.6 559.9,471.6 561.4,471.7 562.9,471.8 564.4,471.8 565.9,472 567.4,472.1 568.9,472.3 570.3,472.5 571.8,472.7 573.3,472.9 574.8,473.2 576.3,473.5 577.7,473.8 579.2,474.1 580.7,474.4 582.1,474.7 583.6,475 585.1,475.3 586.6,475.5 588,475.8 589.5,476 591,476.2 592.5,476.4 594,476.5 595.5,476.6 597,476.7 598.5,476.8 600,476.9 601.5,476.9 603,476.9 604.5,477 606,477 607.5,477 609,477 610.5,477 612,477 613.5,476.9 615,476.9 616.5,476.8 618,476.6 619.5,476.5 620.9,476.3 622.4,476 623.8,475.6 625.2,475.1 626.6,474.6 628,474 629.3,473.3 630.6,472.5 631.9,471.8 633.2,471 634.4,470.2 635.7,469.4 637,468.6 638.2,467.8 639.5,467 640.8,466.3 642.1,465.5 643.4,464.8 644.8,464.1 646.1,463.4 647.4,462.7 648.8,462 650.1,461.4 651.5,460.8 652.9,460.2 654.2,459.5 655.6,458.9 657,458.3 658.3,457.7 659.7,457 661,456.4 662.4,455.7 663.7,455 665.1,454.3 666.4,453.6 667.7,452.9 669,452.2 670.3,451.5 671.6,450.7 672.9,450 674.2,449.2 675.5,448.4 676.7,447.6 678,446.8 679.3,446 680.6,445.2 681.9,444.4 683.2,443.7 684.5,443 685.8,442.3 687.2,441.6 688.5,440.9 689.8,440.2 691.2,439.5 692.5,438.8 693.8,438.2 695.2,437.5 696.5,436.8 697.8,436.1 699.2,435.5 700.6,434.8 701.9,434.2 703.3,433.6 704.7,433 706.1,432.5 707.5,431.9 708.8,431.3 710.2,430.7 711.6,430.1 713,429.5 714.3,428.9 715.7,428.3 717.1,427.6 718.4,427 719.8,426.3 721.1,425.7 722.5,425 723.8,424.4 725.2,423.7 726.5,423.1 727.9,422.4 729.2,421.7 730.6,421.1 732,420.5 733.3,419.8 734.7,419.2 736,418.6 737.4,418 738.8,417.4 740.2,416.8 741.5,416.2 742.9,415.6 744.3,415 745.7,414.4 747.1,413.8 748.5,413.3 749.9,412.7 751.3,412.1 752.7,411.6 754.1,411.1 755.5,410.5 756.9,410 758.3,409.5 759.7,409.1 761.1,408.6 762.6,408.1 764,407.7 765.5,407.3 766.9,406.9 768.4,406.5 769.8,406.1 771.3,405.7 772.7,405.3 774.2,405 775.6,404.6 777.1,404.2 778.5,403.9 779.5,403.6" fill="none" stroke="#F14040" stroke-width="1.7" stroke-linejoin="round" stroke-linecap="round"/>
<path d="M466.4,531.1 467.4,530 468.4,528.8 469.4,527.7 470.4,526.7 471.5,525.6 472.6,524.6 473.7,523.6 474.9,522.6 476,521.7 477.2,520.8 478.4,519.9 479.6,518.9 480.7,518 481.9,517 483,516 484.1,515 485.2,514 486.3,513 487.4,512 488.6,511 489.7,510.1 490.9,509.2 492.2,508.4 493.4,507.6 494.7,506.9 496.1,506.2 497.4,505.6 498.8,505 500.2,504.4 501.6,503.9 503,503.4 504.4,502.9 505.9,502.5 507.3,502.1 508.8,501.8 510.2,501.5 511.7,501.2 513.2,501 514.7,500.7 516.1,500.5 517.6,500.3 519.1,500.2 520.6,500 522.1,499.9 523.6,499.8 525.1,499.7 526.6,499.7 528.1,499.7 529.6,499.7 531.1,499.7 532.6,499.8 534.1,499.9 535.6,500 537.1,500.2 538.6,500.3 540.1,500.5 541.5,500.7 543,500.9 544.5,501.2 546,501.5 547.4,501.8 548.9,502.1 550.4,502.4 551.8,502.7 553.3,503.1 554.7,503.5 556.2,503.9 557.6,504.3 559.1,504.7 560.5,505.2 561.9,505.6 563.3,506.1 564.8,506.6 566.2,507.1 567.6,507.6 569,508.2 570.4,508.7 571.8,509.2 573.2,509.8 574.6,510.3 576,510.8 577.4,511.2 578.9,511.7 580.3,512.1 581.8,512.5 583.2,512.8 584.7,513.1 586.1,513.4 587.6,513.7 589.1,513.9 590.6,514.1 592.1,514.2 593.6,514.3 595.1,514.3 596.5,514.2 598,514.1 599.5,513.9 601,513.6 602.4,513.3 603.9,513 605.3,512.6 606.8,512.1 608.2,511.7 609.6,511.2 611,510.6 612.4,510.1 613.7,509.4 615.1,508.8 616.4,508.1 617.7,507.4 619,506.6 620.2,505.8 621.5,504.9 622.7,504 623.9,503.1 625,502.2 626.2,501.2 627.3,500.2 628.3,499.1 629.4,498.1 630.4,497 631.4,495.8 632.3,494.7 633.3,493.5 634.2,492.3 635.1,491.2 636,490 636.9,488.8 637.8,487.6 638.7,486.4 639.7,485.2 640.6,484.1 641.6,483 642.7,481.9 643.7,480.8 644.8,479.7 645.8,478.7 646.9,477.7 648,476.6 649.1,475.6 650.3,474.6 651.4,473.6 652.5,472.6 653.6,471.6 654.7,470.6 655.8,469.6 656.9,468.6 658,467.6 659.1,466.6 660.3,465.6 661.4,464.5 662.5,463.5 663.6,462.5 664.7,461.5 665.8,460.5 666.9,459.5 668,458.5 669.2,457.5 670.3,456.5 671.4,455.5 672.6,454.6 673.7,453.6 674.9,452.6 676,451.7 677.2,450.7 678.4,449.8 679.5,448.9 680.7,448 681.9,447.1 683.1,446.2 684.3,445.3 685.6,444.4 686.8,443.5 688,442.6 689.2,441.8 690.4,440.9 691.7,440 692.9,439.2 694.1,438.3 695.4,437.5 696.6,436.7 697.9,435.9 699.2,435.2 700.5,434.5 701.9,433.9 703.3,433.3 704.7,432.7 706.1,432.2 707.5,431.7 708.9,431.1 710.3,430.6 711.6,430 713,429.5 714.4,428.9 715.8,428.2 717.1,427.6 718.5,427 719.8,426.3 721.2,425.7 722.5,425 723.9,424.4 725.2,423.7 726.6,423 727.9,422.4 729.3,421.7 730.6,421.1 732,420.5 733.4,419.8 734.7,419.2 736.1,418.6 737.5,418 738.8,417.3 740.2,416.7 741.6,416.2 743,415.6 744.3,415 745.7,414.4 747.1,413.8 748.5,413.3 749.9,412.7 751.3,412.1 752.7,411.6 754.1,411.1 755.5,410.5 756.9,410 758.3,409.5 759.7,409.1 761.2,408.6 762.6,408.1 764,407.7 765.5,407.3 766.9,406.9 768.4,406.5 769.8,406.1 771.3,405.7 772.7,405.3 774.2,405 775.6,404.6 777.1,404.2 778.5,403.9 779.5,403.6" fill="none" stroke="#1A6FDF" stroke-width="1.7" stroke-linejoin="round" stroke-linecap="round"/>
<path d="M466.4,544.6 467.4,543.4 468.3,542.3 469.2,541.1 470.1,539.9 471.1,538.7 472.1,537.6 473,536.5 474.1,535.4 475.1,534.3 476.2,533.2 477.3,532.2 478.4,531.3 479.6,530.3 480.8,529.5 482,528.6 483.3,527.8 484.6,527.1 485.9,526.3 487.2,525.6 488.5,524.9 489.9,524.3 491.2,523.6 492.6,523 494,522.4 495.4,521.8 496.7,521.2 498.1,520.7 499.5,520.1 500.9,519.6 502.4,519.1 503.8,518.6 505.2,518.2 506.7,517.7 508.1,517.4 509.6,517 511,516.6 512.5,516.3 514,516.1 515.4,515.8 516.9,515.6 518.4,515.4 519.9,515.3 521.4,515.2 522.9,515.1 524.4,515 525.9,515 527.4,515 528.9,515.1 530.4,515.2 531.9,515.3 533.4,515.4 534.9,515.6 536.3,515.8 537.8,516.1 539.3,516.3 540.8,516.6 542.2,517 543.7,517.4 545.1,517.8 546.5,518.2 547.9,518.7 549.4,519.2 550.8,519.8 552.1,520.4 553.5,520.9 554.9,521.5 556.3,522.1 557.7,522.7 559,523.3 560.4,524 561.8,524.6 563.1,525.2 564.5,525.8 565.9,526.4 567.3,527 568.6,527.6 570,528.2 571.4,528.9 572.7,529.5 574.1,530.1 575.5,530.7 576.8,531.3 578.2,531.9 579.6,532.5 581,533.1 582.4,533.6 583.8,534 585.2,534.4 586.7,534.8 588.1,535 589.6,535.2 591.1,535.3 592.6,535.3 594.1,535.3 595.6,535.2 597,535 598.5,534.7 599.9,534.3 601.3,533.9 602.7,533.4 604.1,532.8 605.5,532.2 606.9,531.6 608.2,531 609.5,530.3 610.8,529.5 612.1,528.8 613.4,528 614.6,527.2 615.9,526.3 617.1,525.4 618.3,524.5 619.5,523.6 620.7,522.7 621.8,521.7 622.9,520.7 624,519.7 625.1,518.7 626.1,517.6 627.1,516.4 628,515.3 628.9,514.1 629.8,512.9 630.7,511.6 631.5,510.4 632.4,509.2 633.2,507.9 634,506.6 634.8,505.4 635.7,504.1 636.5,502.9 637.3,501.6 638.1,500.4 638.9,499.1 639.7,497.8 640.6,496.6 641.4,495.4 642.3,494.1 643.1,492.9 644,491.7 644.9,490.5 645.8,489.2 646.7,488 647.6,486.8 648.5,485.7 649.4,484.5 650.3,483.3 651.3,482.1 652.2,480.9 653.1,479.7 654,478.5 654.9,477.3 655.9,476.2 656.8,475 657.8,473.8 658.7,472.7 659.7,471.5 660.6,470.4 661.6,469.2 662.6,468.1 663.6,467 664.7,465.9 665.7,464.8 666.8,463.8 667.8,462.7 668.9,461.7 670,460.6 671,459.5 672.1,458.5 673.1,457.4 674.2,456.4 675.3,455.3 676.4,454.3 677.4,453.2 678.6,452.2 679.7,451.2 680.8,450.2 681.9,449.3 683.1,448.3 684.3,447.3 685.4,446.4 686.6,445.5 687.8,444.5 689,443.6 690.2,442.7 691.4,441.8 692.6,440.9 693.8,440 695,439.1 696.2,438.2 697.4,437.4 698.7,436.6 699.9,435.8 701.2,435 702.6,434.4 703.9,433.7 705.3,433.1 706.6,432.4 708,431.8 709.4,431.2 710.7,430.6 712.1,430 713.5,429.3 714.8,428.7 716.2,428 717.5,427.4 718.9,426.7 720.2,426.1 721.6,425.4 722.9,424.8 724.3,424.1 725.6,423.5 727,422.8 728.3,422.2 729.7,421.5 731.1,420.9 732.4,420.2 733.8,419.6 735.1,419 736.5,418.4 737.9,417.8 739.3,417.2 740.6,416.6 742,416 743.4,415.4 744.8,414.8 746.2,414.2 747.6,413.6 748.9,413.1 750.3,412.5 751.7,412 753.1,411.4 754.5,410.9 755.9,410.4 757.4,409.9 758.8,409.4 760.2,408.9 761.6,408.4 763.1,408 764.5,407.6 765.9,407.1 767.4,406.7 768.8,406.3 770.3,406 771.7,405.6 773.2,405.2 774.6,404.8 776.1,404.5 777.6,404.1 779,403.7 779.5,403.6" fill="none" stroke="#37AD6B" stroke-width="1.7" stroke-linejoin="round" stroke-linecap="round"/>
<path d="M466.4,552.1 467.5,551 468.5,550 469.6,548.9 470.6,547.8 471.7,546.8 472.8,545.7 473.9,544.7 475,543.7 476.1,542.7 477.2,541.7 478.3,540.7 479.5,539.7 480.6,538.8 481.9,537.9 483.1,537.1 484.3,536.2 485.6,535.5 486.9,534.7 488.2,534 489.6,533.3 490.9,532.7 492.3,532.1 493.7,531.5 495.1,531 496.5,530.4 497.9,530 499.3,529.5 500.8,529.1 502.2,528.7 503.7,528.4 505.1,528.1 506.6,527.8 508.1,527.6 509.6,527.4 511.1,527.3 512.6,527.2 514.1,527.2 515.6,527.2 517.1,527.2 518.6,527.3 520.1,527.3 521.5,527.4 523,527.6 524.5,527.7 526,527.9 527.5,528.2 529,528.4 530.4,528.7 531.9,529.1 533.4,529.4 534.8,529.8 536.2,530.3 537.7,530.7 539.1,531.2 540.5,531.8 541.9,532.3 543.2,532.9 544.6,533.5 546,534.1 547.4,534.7 548.7,535.3 550.1,535.9 551.5,536.6 552.8,537.2 554.2,537.9 555.5,538.5 556.9,539.2 558.2,539.9 559.5,540.5 560.9,541.2 562.2,541.9 563.5,542.6 564.9,543.3 566.2,544 567.5,544.7 568.9,545.3 570.3,546 571.6,546.6 573,547.1 574.4,547.6 575.8,548.1 577.3,548.6 578.7,549 580.2,549.4 581.6,549.7 583.1,550 584.5,550.3 586,550.5 587.5,550.6 589,550.7 590.5,550.7 591.9,550.6 593.4,550.4 594.9,550.1 596.3,549.7 597.8,549.3 599.2,548.9 600.6,548.4 602,547.8 603.3,547.2 604.7,546.6 606,545.9 607.3,545.2 608.6,544.4 609.9,543.6 611.1,542.7 612.3,541.8 613.4,540.9 614.6,539.9 615.7,538.9 616.7,537.8 617.8,536.7 618.8,535.6 619.8,534.5 620.7,533.4 621.7,532.2 622.6,531 623.5,529.8 624.4,528.6 625.3,527.4 626.2,526.2 627,524.9 627.8,523.7 628.6,522.4 629.4,521.1 630.1,519.8 630.9,518.5 631.6,517.2 632.3,515.9 633,514.6 633.7,513.2 634.4,511.9 635.1,510.6 635.9,509.3 636.6,507.9 637.3,506.6 638,505.3 638.7,504 639.4,502.7 640.1,501.3 640.8,500 641.6,498.7 642.3,497.4 643.1,496.2 644,494.9 644.8,493.7 645.7,492.5 646.6,491.2 647.5,490.1 648.4,488.9 649.3,487.7 650.2,486.5 651.1,485.3 652,484.1 652.9,482.9 653.9,481.7 654.8,480.6 655.8,479.5 656.9,478.4 657.9,477.3 659,476.2 660,475.2 661.1,474.1 662.2,473.1 663.2,472 664.3,471 665.3,469.9 666.4,468.8 667.4,467.7 668.4,466.6 669.4,465.4 670.3,464.3 671.3,463.2 672.3,462 673.3,460.9 674.2,459.7 675.2,458.6 676.2,457.5 677.3,456.4 678.3,455.3 679.3,454.2 680.4,453.1 681.4,452.1 682.5,451 683.6,450 684.7,449 685.8,448 686.9,447 688.1,446 689.2,445 690.4,444.1 691.5,443.1 692.7,442.2 693.8,441.2 695,440.3 696.2,439.4 697.4,438.5 698.7,437.6 699.9,436.8 701.2,436 702.4,435.2 703.7,434.5 705.1,433.7 706.4,433 707.7,432.3 709,431.6 710.4,430.9 711.7,430.3 713,429.6 714.4,428.9 715.7,428.2 717.1,427.6 718.4,426.9 719.8,426.2 721.1,425.6 722.5,424.9 723.8,424.3 725.2,423.6 726.5,423 727.9,422.3 729.2,421.7 730.6,421.1 732,420.4 733.3,419.8 734.7,419.2 736.1,418.6 737.4,418 738.8,417.4 740.2,416.8 741.6,416.2 742.9,415.6 744.3,415 745.7,414.4 747.1,413.8 748.5,413.3 749.9,412.7 751.3,412.1 752.7,411.6 754.1,411.1 755.5,410.5 756.9,410 758.3,409.5 759.7,409.1 761.2,408.6 762.6,408.1 764,407.7 765.5,407.3 766.9,406.9 768.4,406.5 769.8,406.1 771.3,405.7 772.7,405.3 774.2,405 775.6,404.6 777.1,404.2 778.5,403.9 779.5,403.6" fill="none" stroke="#B177DE" stroke-width="1.7" stroke-linejoin="round" stroke-linecap="round"/>
<path d="M466.4,562.7 467.4,561.6 468.5,560.5 469.5,559.5 470.6,558.4 471.7,557.4 472.8,556.3 473.9,555.3 475,554.3 476.2,553.4 477.3,552.4 478.5,551.5 479.7,550.7 481,549.8 482.2,549 483.5,548.2 484.8,547.4 486.1,546.7 487.4,546 488.7,545.3 490.1,544.7 491.5,544.1 492.9,543.6 494.3,543.1 495.7,542.7 497.2,542.4 498.6,542.1 500.1,541.8 501.6,541.6 503.1,541.5 504.6,541.3 506.1,541.3 507.6,541.2 509.1,541.2 510.6,541.3 512.1,541.4 513.5,541.5 515,541.7 516.5,541.9 518,542.2 519.4,542.5 520.9,542.8 522.4,543.1 523.8,543.5 525.3,543.9 526.7,544.3 528.2,544.7 529.6,545.2 531,545.7 532.4,546.2 533.8,546.8 535.1,547.4 536.5,548.1 537.8,548.8 539.1,549.5 540.4,550.2 541.7,550.9 543,551.7 544.3,552.5 545.6,553.2 546.9,554 548.2,554.8 549.5,555.6 550.8,556.4 552,557.1 553.3,557.9 554.6,558.7 555.9,559.4 557.2,560.2 558.5,561 559.8,561.8 561,562.5 562.3,563.3 563.6,564.1 564.9,564.9 566.2,565.7 567.5,566.4 568.8,567.1 570.1,567.8 571.5,568.4 572.9,569 574.3,569.5 575.7,569.9 577.1,570.3 578.6,570.6 580.1,570.9 581.5,571 583,571.1 584.5,571.1 586,571.1 587.5,570.9 588.9,570.7 590.4,570.4 591.8,570 593.2,569.6 594.6,569 595.9,568.4 597.3,567.7 598.5,566.9 599.8,566.1 601,565.3 602.2,564.4 603.4,563.4 604.6,562.5 605.7,561.5 606.8,560.5 607.9,559.5 608.9,558.4 610,557.3 611,556.2 612,555.1 612.9,553.9 613.8,552.7 614.8,551.6 615.7,550.4 616.6,549.2 617.4,547.9 618.3,546.7 619.2,545.5 620,544.3 620.9,543 621.7,541.8 622.5,540.5 623.3,539.2 624.1,538 624.9,536.7 625.7,535.4 626.5,534.1 627.2,532.8 628,531.5 628.8,530.2 629.5,528.9 630.3,527.6 631,526.3 631.7,525 632.5,523.7 633.2,522.4 633.9,521.1 634.7,519.8 635.4,518.5 636.1,517.2 636.8,515.8 637.5,514.5 638.2,513.2 638.9,511.8 639.6,510.5 640.3,509.2 641,507.8 641.7,506.5 642.4,505.2 643.1,503.9 643.8,502.6 644.6,501.3 645.3,500 646.1,498.7 646.8,497.4 647.6,496.1 648.4,494.8 649.3,493.6 650.1,492.3 650.9,491.1 651.8,489.9 652.7,488.7 653.6,487.5 654.5,486.3 655.4,485.1 656.3,483.9 657.2,482.7 658.1,481.5 659,480.3 659.9,479 660.7,477.8 661.6,476.6 662.4,475.3 663.3,474.1 664.1,472.9 665,471.6 665.9,470.4 666.8,469.2 667.7,468 668.6,466.8 669.5,465.7 670.5,464.5 671.5,463.4 672.4,462.2 673.4,461.1 674.4,460 675.4,458.8 676.4,457.7 677.4,456.6 678.4,455.5 679.5,454.4 680.5,453.3 681.5,452.3 682.6,451.2 683.7,450.2 684.8,449.1 685.9,448.1 687,447.1 688.1,446.1 689.3,445.2 690.4,444.2 691.6,443.2 692.8,442.3 693.9,441.4 695.1,440.4 696.3,439.5 697.5,438.6 698.7,437.8 700,436.9 701.2,436.1 702.5,435.3 703.8,434.6 705.1,433.8 706.4,433.1 707.7,432.4 709.1,431.7 710.4,431 711.7,430.3 713.1,429.6 714.4,428.9 715.7,428.2 717.1,427.6 718.4,426.9 719.8,426.2 721.1,425.6 722.5,424.9 723.8,424.3 725.2,423.6 726.5,423 727.9,422.3 729.2,421.7 730.6,421.1 732,420.4 733.3,419.8 734.7,419.2 736.1,418.6 737.4,418 738.8,417.4 740.2,416.8 741.6,416.2 742.9,415.6 744.3,415 745.7,414.4 747.1,413.8 748.5,413.3 749.9,412.7 751.3,412.1 752.7,411.6 754.1,411.1 755.5,410.5 756.9,410 758.3,409.5 759.7,409.1 761.2,408.6 762.6,408.1 764,407.7 765.5,407.3 766.9,406.9 768.4,406.5 769.8,406.1 771.3,405.7 772.7,405.3 774.2,405 775.6,404.6 777.1,404.2 778.5,403.9 779.5,403.6" fill="none" stroke="#CC9900" stroke-width="1.7" stroke-linejoin="round" stroke-linecap="round"/>
<path d="M466.4,580.8 467.4,579.7 468.3,578.5 469.3,577.4 470.3,576.2 471.3,575.1 472.3,574 473.3,572.9 474.4,571.8 475.4,570.8 476.5,569.8 477.7,568.8 478.8,567.8 480,566.9 481.2,566.1 482.5,565.2 483.7,564.4 485,563.7 486.3,563 487.7,562.3 489,561.7 490.4,561.2 491.8,560.6 493.2,560.2 494.7,559.8 496.1,559.4 497.6,559.1 499.1,558.8 500.5,558.6 502,558.4 503.5,558.3 505,558.3 506.5,558.3 508,558.3 509.5,558.4 511,558.5 512.5,558.7 513.9,558.9 515.4,559.2 516.9,559.5 518.3,559.9 519.8,560.2 521.2,560.6 522.7,561 524.1,561.4 525.6,561.9 527,562.3 528.4,562.8 529.8,563.3 531.2,563.8 532.6,564.4 534,565 535.3,565.6 536.7,566.3 538,567 539.2,567.8 540.5,568.6 541.7,569.5 542.9,570.4 544.1,571.3 545.2,572.3 546.4,573.2 547.6,574.1 548.8,575 550,575.9 551.3,576.7 552.6,577.5 553.8,578.2 555.2,578.9 556.5,579.6 557.8,580.3 559.1,581 560.4,581.8 561.8,582.5 563.1,583.2 564.4,584 565.7,584.7 566.9,585.5 568.2,586.3 569.5,587 570.9,587.7 572.2,588.4 573.5,589.1 574.9,589.7 576.2,590.3 577.6,590.8 579.1,591.2 580.5,591.6 582,591.8 583.4,592 584.9,592 586.4,591.9 587.8,591.8 589.3,591.5 590.7,591.2 592.1,590.7 593.5,590.2 594.9,589.6 596.2,588.9 597.5,588.2 598.8,587.4 600,586.5 601.2,585.6 602.4,584.7 603.5,583.8 604.7,582.8 605.8,581.8 606.9,580.8 608,579.7 609,578.7 610.1,577.6 611.1,576.5 612,575.3 612.9,574.1 613.7,572.9 614.5,571.6 615.2,570.3 615.9,569 616.6,567.7 617.2,566.3 617.9,565 618.6,563.6 619.2,562.3 619.9,561 620.6,559.6 621.3,558.3 621.9,556.9 622.6,555.6 623.3,554.2 623.9,552.9 624.6,551.6 625.3,550.2 625.9,548.9 626.6,547.5 627.3,546.2 627.9,544.8 628.6,543.5 629.2,542.1 629.9,540.8 630.6,539.4 631.2,538.1 631.9,536.8 632.6,535.4 633.3,534.1 633.9,532.7 634.6,531.4 635.3,530.1 636,528.7 636.7,527.4 637.4,526.1 638.1,524.7 638.7,523.4 639.4,522.1 640.2,520.8 640.9,519.4 641.6,518.1 642.3,516.8 643,515.5 643.8,514.2 644.5,512.9 645.3,511.6 646.1,510.3 646.8,509 647.6,507.7 648.3,506.4 649.1,505.1 649.8,503.8 650.6,502.5 651.3,501.2 652,499.9 652.7,498.6 653.4,497.3 654.2,495.9 654.9,494.6 655.6,493.3 656.3,492 657.1,490.7 657.8,489.4 658.6,488.1 659.3,486.8 660.1,485.5 660.9,484.3 661.8,483 662.6,481.8 663.5,480.6 664.4,479.3 665.3,478.1 666.2,476.9 667.1,475.8 668,474.6 668.9,473.4 669.9,472.2 670.8,471.1 671.8,469.9 672.7,468.8 673.7,467.6 674.7,466.4 675.6,465.3 676.6,464.2 677.6,463 678.6,461.9 679.5,460.8 680.5,459.6 681.5,458.5 682.6,457.4 683.6,456.3 684.6,455.2 685.6,454.1 686.7,453 687.7,452 688.8,450.9 689.8,449.8 690.9,448.8 692,447.7 693,446.7 694.1,445.7 695.3,444.7 696.4,443.7 697.5,442.7 698.7,441.8 699.8,440.8 701,439.9 702.2,439 703.5,438.1 704.7,437.3 705.9,436.4 707.2,435.6 708.4,434.7 709.7,433.9 710.9,433.1 712.2,432.4 713.5,431.6 714.8,430.9 716.1,430.1 717.4,429.4 718.8,428.7 720.1,428 721.4,427.3 722.7,426.6 724.1,425.9 725.4,425.2 726.7,424.5 728.1,423.9 729.4,423.2 730.8,422.5 732.1,421.9 733.5,421.2 734.8,420.6 736.2,419.9 737.5,419.3 738.9,418.7 740.3,418 741.6,417.4 743,416.8 744.4,416.2 745.8,415.6 747.1,415 748.5,414.4 749.9,413.9 751.3,413.3 752.7,412.7 754.1,412.2 755.5,411.7 756.9,411.2 758.3,410.6 759.7,410.2 761.1,409.7 762.6,409.2 764,408.8 765.5,408.4 766.9,408 768.3,407.6 769.8,407.2 771.2,406.8 772.7,406.5 774.2,406.1 775.6,405.8 777.1,405.4 778.5,405 779.5,404.8" fill="none" stroke="#00CBCC" stroke-width="1.7" stroke-linejoin="round" stroke-linecap="round"/>
<path d="M466.4,578.2 467.5,577.1 468.5,576.1 469.6,575 470.7,574 471.8,573 472.9,572 474.1,571.1 475.3,570.2 476.5,569.3 477.8,568.5 479.1,567.8 480.4,567.1 481.7,566.5 483.1,566 484.5,565.5 486,565 487.4,564.7 488.9,564.4 490.3,564.1 491.8,563.9 493.3,563.7 494.8,563.6 496.3,563.6 497.8,563.6 499.3,563.6 500.8,563.7 502.3,563.8 503.8,564 505.2,564.3 506.7,564.6 508.2,564.9 509.6,565.3 511,565.7 512.5,566.2 513.9,566.7 515.3,567.2 516.7,567.7 518.1,568.3 519.5,568.9 520.9,569.4 522.2,570 523.6,570.6 525,571.2 526.4,571.7 527.8,572.3 529.1,573 530.5,573.6 531.8,574.3 533.2,575 534.5,575.7 535.8,576.5 537,577.2 538.3,578.1 539.5,578.9 540.7,579.8 541.9,580.7 543.1,581.6 544.3,582.6 545.5,583.5 546.6,584.4 547.8,585.4 549,586.3 550.2,587.2 551.4,588.1 552.6,589 553.8,589.9 555,590.8 556.2,591.6 557.5,592.5 558.7,593.3 560,594.1 561.3,594.9 562.6,595.7 563.9,596.4 565.2,597.1 566.5,597.8 567.9,598.4 569.3,599 570.7,599.5 572.1,600 573.5,600.4 575,600.7 576.4,600.9 577.9,601 579.4,601.1 580.9,601 582.3,600.9 583.8,600.6 585.3,600.3 586.7,599.9 588.1,599.4 589.5,598.9 590.8,598.2 592.1,597.5 593.4,596.7 594.6,595.9 595.8,595 597,594.1 598.1,593.1 599.2,592.1 600.3,591 601.3,590 602.3,588.9 603.3,587.7 604.3,586.6 605.2,585.4 606,584.2 606.9,582.9 607.7,581.7 608.5,580.4 609.2,579.1 610,577.8 610.7,576.5 611.4,575.1 612,573.8 612.7,572.4 613.3,571.1 613.9,569.7 614.6,568.3 615.2,567 615.8,565.6 616.4,564.2 617,562.9 617.6,561.5 618.3,560.1 618.9,558.8 619.6,557.4 620.2,556.1 620.9,554.7 621.5,553.4 622.2,552 622.8,550.7 623.5,549.3 624.2,548 624.8,546.6 625.5,545.3 626.1,543.9 626.8,542.6 627.5,541.2 628.1,539.9 628.8,538.5 629.5,537.2 630.1,535.9 630.8,534.5 631.5,533.2 632.2,531.8 632.9,530.5 633.6,529.2 634.3,527.9 635,526.5 635.7,525.2 636.4,523.9 637.1,522.5 637.8,521.2 638.5,519.9 639.1,518.5 639.8,517.2 640.5,515.9 641.2,514.5 641.9,513.2 642.6,511.8 643.3,510.5 643.9,509.2 644.6,507.8 645.3,506.5 646,505.2 646.7,503.9 647.4,502.5 648.1,501.2 648.8,499.9 649.5,498.5 650.2,497.2 650.9,495.9 651.6,494.5 652.3,493.2 653,491.9 653.7,490.6 654.4,489.2 655.1,487.9 655.8,486.6 656.5,485.3 657.3,484 658,482.6 658.8,481.3 659.5,480.1 660.3,478.8 661.1,477.5 661.9,476.2 662.7,475 663.5,473.7 664.4,472.5 665.2,471.2 666.1,470 667,468.8 667.9,467.6 668.9,466.5 669.8,465.3 670.8,464.2 671.8,463 672.7,461.9 673.7,460.7 674.7,459.6 675.7,458.5 676.7,457.4 677.7,456.3 678.7,455.2 679.8,454.1 680.8,453 681.9,451.9 682.9,450.9 684,449.8 685.1,448.8 686.2,447.8 687.4,446.8 688.5,445.8 689.6,444.9 690.8,443.9 692,442.9 693.1,442 694.3,441.1 695.5,440.1 696.7,439.2 697.9,438.4 699.1,437.5 700.4,436.7 701.6,435.9 702.9,435.1 704.2,434.3 705.5,433.6 706.8,432.9 708.1,432.1 709.5,431.4 710.8,430.7 712.1,430.1 713.5,429.4 714.8,428.7 716.2,428 717.5,427.4 718.9,426.7 720.2,426 721.6,425.4 722.9,424.7 724.3,424.1 725.6,423.4 727,422.8 728.3,422.1 729.7,421.5 731,420.9 732.4,420.2 733.8,419.6 735.1,419 736.5,418.4 737.9,417.8 739.3,417.2 740.6,416.6 742,416 743.4,415.4 744.8,414.8 746.2,414.2 747.6,413.6 748.9,413.1 750.3,412.5 751.7,412 753.1,411.4 754.5,410.9 755.9,410.4 757.4,409.9 758.8,409.4 760.2,408.9 761.6,408.4 763.1,408 764.5,407.6 765.9,407.1 767.4,406.7 768.8,406.3 770.3,406 771.7,405.6 773.2,405.2 774.6,404.8 776.1,404.5 777.6,404.1 779,403.7 779.5,403.6" fill="none" stroke="#7D4E4E" stroke-width="1.7" stroke-linejoin="round" stroke-linecap="round"/>
<path d="M466.4,585.7 467.5,584.7 468.6,583.6 469.7,582.6 470.8,581.6 471.9,580.6 473.1,579.7 474.2,578.8 475.5,577.9 476.7,577.1 478,576.3 479.3,575.6 480.6,574.9 482,574.3 483.4,573.8 484.8,573.3 486.2,572.8 487.6,572.4 489.1,572 490.5,571.7 492,571.4 493.5,571.2 495,571 496.5,570.9 497.9,570.9 499.4,570.9 500.9,571 502.4,571.1 503.9,571.3 505.4,571.5 506.9,571.8 508.3,572.1 509.8,572.4 511.2,572.8 512.6,573.2 514.1,573.7 515.4,574.3 516.8,574.8 518.2,575.5 519.5,576.1 520.9,576.8 522.2,577.4 523.5,578.1 524.9,578.9 526.2,579.6 527.5,580.3 528.8,581.1 530,581.9 531.3,582.7 532.6,583.5 533.8,584.4 535,585.2 536.2,586.2 537.4,587.1 538.5,588 539.7,589 540.8,590 541.9,591 543,592 544.1,593 545.3,594 546.4,595 547.5,596 548.6,597 549.8,597.9 550.9,598.9 552.1,599.8 553.3,600.8 554.5,601.7 555.7,602.6 556.9,603.4 558.1,604.3 559.4,605.1 560.7,605.8 562,606.6 563.3,607.3 564.6,608 566,608.6 567.4,609.2 568.7,609.8 570.1,610.3 571.5,610.7 573,611.1 574.4,611.4 575.9,611.6 577.3,611.7 578.8,611.6 580.3,611.5 581.7,611.2 583.2,610.8 584.6,610.4 586,609.9 587.3,609.3 588.6,608.6 589.9,607.9 591.2,607.1 592.4,606.2 593.6,605.3 594.8,604.4 595.9,603.4 597,602.4 598.1,601.4 599.2,600.3 600.2,599.2 601.2,598.1 602.1,597 603.1,595.8 604,594.6 604.9,593.4 605.8,592.2 606.6,591 607.5,589.7 608.3,588.5 609.1,587.2 609.9,585.9 610.6,584.6 611.4,583.3 612.1,582 612.8,580.7 613.5,579.4 614.2,578 614.8,576.7 615.4,575.3 616,573.9 616.6,572.5 617.1,571.1 617.7,569.8 618.3,568.4 618.8,567 619.4,565.6 620,564.2 620.6,562.9 621.3,561.5 621.9,560.1 622.6,558.8 623.2,557.4 623.9,556.1 624.6,554.8 625.2,553.4 625.9,552.1 626.6,550.7 627.2,549.4 627.9,548 628.5,546.7 629.2,545.3 629.8,544 630.5,542.6 631.1,541.3 631.8,539.9 632.4,538.6 633.1,537.2 633.7,535.9 634.4,534.5 635,533.2 635.6,531.8 636.3,530.4 636.9,529.1 637.6,527.7 638.2,526.4 638.8,525 639.5,523.6 640.1,522.3 640.7,520.9 641.3,519.5 641.9,518.2 642.5,516.8 643.1,515.4 643.7,514 644.3,512.7 644.9,511.3 645.6,509.9 646.2,508.6 646.8,507.2 647.5,505.9 648.1,504.5 648.7,503.2 649.4,501.8 650,500.4 650.7,499.1 651.3,497.7 652,496.4 652.6,495 653.3,493.7 653.9,492.3 654.6,491 655.2,489.6 655.9,488.3 656.6,486.9 657.2,485.6 657.9,484.3 658.6,482.9 659.3,481.6 660,480.3 660.8,479 661.5,477.7 662.3,476.4 663.1,475.1 663.9,473.9 664.7,472.6 665.5,471.4 666.4,470.1 667.3,468.9 668.2,467.7 669.1,466.5 670,465.4 671,464.2 671.9,463 672.9,461.9 673.9,460.8 674.9,459.6 675.9,458.5 676.9,457.4 677.9,456.3 678.9,455.2 679.9,454.1 681,453 682,452 683.1,450.9 684.2,449.9 685.3,448.8 686.4,447.8 687.5,446.8 688.6,445.9 689.8,444.9 690.9,443.9 692.1,443 693.2,442 694.4,441.1 695.6,440.2 696.8,439.3 698,438.4 699.3,437.6 700.5,436.8 701.8,435.9 703.1,435.2 704.3,434.4 705.6,433.6 706.9,432.9 708.2,432.2 709.6,431.4 710.9,430.7 712.2,430 713.6,429.4 714.9,428.7 716.2,428 717.6,427.3 718.9,426.7 720.3,426 721.6,425.3 723,424.7 724.3,424 725.7,423.4 727,422.7 728.4,422.1 729.7,421.5 731.1,420.8 732.5,420.2 733.8,419.6 735.2,419 736.6,418.4 737.9,417.7 739.3,417.1 740.7,416.5 742.1,416 743.4,415.4 744.8,414.8 746.2,414.2 747.6,413.6 749,413.1 750.4,412.5 751.8,412 753.2,411.4 754.6,410.9 756,410.4 757.4,409.9 758.8,409.4 760.2,408.9 761.6,408.4 763.1,408 764.5,407.6 766,407.1 767.4,406.7 768.8,406.3 770.3,406 771.7,405.6 773.2,405.2 774.7,404.8 776.1,404.5 777.6,404.1 779,403.7 779.5,403.6" fill="none" stroke="#8E8E00" stroke-width="1.7" stroke-linejoin="round" stroke-linecap="round"/>
<rect x="465.9" y="372.4" width="313.5" height="252" fill="none" stroke="#000" stroke-width="1.9"/>
<line x1="460.9" y1="624.4" x2="465.9" y2="624.4" stroke="#000" stroke-width="1.7" stroke-linecap="butt"/>
<text x="457.5" y="629.34" font-family='"Liberation Sans", sans-serif' font-size="13.8" font-weight="bold" fill="#000" text-anchor="end" stroke="#000" stroke-width="0.3">-200</text>
<line x1="463.3" y1="596.4" x2="465.9" y2="596.4" stroke="#000" stroke-width="1.7" stroke-linecap="butt"/>
<line x1="460.9" y1="568.4" x2="465.9" y2="568.4" stroke="#000" stroke-width="1.7" stroke-linecap="butt"/>
<text x="457.5" y="573.34" font-family='"Liberation Sans", sans-serif' font-size="13.8" font-weight="bold" fill="#000" text-anchor="end" stroke="#000" stroke-width="0.3">-150</text>
<line x1="463.3" y1="540.4" x2="465.9" y2="540.4" stroke="#000" stroke-width="1.7" stroke-linecap="butt"/>
<line x1="460.9" y1="512.4" x2="465.9" y2="512.4" stroke="#000" stroke-width="1.7" stroke-linecap="butt"/>
<text x="457.5" y="517.34" font-family='"Liberation Sans", sans-serif' font-size="13.8" font-weight="bold" fill="#000" text-anchor="end" stroke="#000" stroke-width="0.3">-100</text>
<line x1="463.3" y1="484.4" x2="465.9" y2="484.4" stroke="#000" stroke-width="1.7" stroke-linecap="butt"/>
<line x1="460.9" y1="456.4" x2="465.9" y2="456.4" stroke="#000" stroke-width="1.7" stroke-linecap="butt"/>
<text x="457.5" y="461.34" font-family='"Liberation Sans", sans-serif' font-size="13.8" font-weight="bold" fill="#000" text-anchor="end" stroke="#000" stroke-width="0.3">-50</text>
<line x1="463.3" y1="428.4" x2="465.9" y2="428.4" stroke="#000" stroke-width="1.7" stroke-linecap="butt"/>
<line x1="460.9" y1="400.4" x2="465.9" y2="400.4" stroke="#000" stroke-width="1.7" stroke-linecap="butt"/>
<text x="457.5" y="405.34" font-family='"Liberation Sans", sans-serif' font-size="13.8" font-weight="bold" fill="#000" text-anchor="end" stroke="#000" stroke-width="0.3">0</text>
<line x1="463.3" y1="372.4" x2="465.9" y2="372.4" stroke="#000" stroke-width="1.7" stroke-linecap="butt"/>
<line x1="465.9" y1="624.4" x2="465.9" y2="629.4" stroke="#000" stroke-width="1.7" stroke-linecap="butt"/>
<text x="465.9" y="643.9" font-family='"Liberation Sans", sans-serif' font-size="13.5" font-weight="bold" fill="#000" text-anchor="middle" stroke="#000" stroke-width="0.3">-1.4</text>
<line x1="497.25" y1="624.4" x2="497.25" y2="627" stroke="#000" stroke-width="1.7" stroke-linecap="butt"/>
<line x1="528.6" y1="624.4" x2="528.6" y2="629.4" stroke="#000" stroke-width="1.7" stroke-linecap="butt"/>
<text x="528.6" y="643.9" font-family='"Liberation Sans", sans-serif' font-size="13.5" font-weight="bold" fill="#000" text-anchor="middle" stroke="#000" stroke-width="0.3">-1.2</text>
<line x1="559.95" y1="624.4" x2="559.95" y2="627" stroke="#000" stroke-width="1.7" stroke-linecap="butt"/>
<line x1="591.3" y1="624.4" x2="591.3" y2="629.4" stroke="#000" stroke-width="1.7" stroke-linecap="butt"/>
<text x="591.3" y="643.9" font-family='"Liberation Sans", sans-serif' font-size="13.5" font-weight="bold" fill="#000" text-anchor="middle" stroke="#000" stroke-width="0.3">-1.0</text>
<line x1="622.65" y1="624.4" x2="622.65" y2="627" stroke="#000" stroke-width="1.7" stroke-linecap="butt"/>
<line x1="654" y1="624.4" x2="654" y2="629.4" stroke="#000" stroke-width="1.7" stroke-linecap="butt"/>
<text x="654" y="643.9" font-family='"Liberation Sans", sans-serif' font-size="13.5" font-weight="bold" fill="#000" text-anchor="middle" stroke="#000" stroke-width="0.3">-0.8</text>
<line x1="685.35" y1="624.4" x2="685.35" y2="627" stroke="#000" stroke-width="1.7" stroke-linecap="butt"/>
<line x1="716.7" y1="624.4" x2="716.7" y2="629.4" stroke="#000" stroke-width="1.7" stroke-linecap="butt"/>
<text x="716.7" y="643.9" font-family='"Liberation Sans", sans-serif' font-size="13.5" font-weight="bold" fill="#000" text-anchor="middle" stroke="#000" stroke-width="0.3">-0.6</text>
<line x1="748.05" y1="624.4" x2="748.05" y2="627" stroke="#000" stroke-width="1.7" stroke-linecap="butt"/>
<line x1="779.4" y1="624.4" x2="779.4" y2="629.4" stroke="#000" stroke-width="1.7" stroke-linecap="butt"/>
<text x="779.4" y="643.9" font-family='"Liberation Sans", sans-serif' font-size="13.5" font-weight="bold" fill="#000" text-anchor="middle" stroke="#000" stroke-width="0.3">-0.4</text>
<text transform="translate(423.3,498.4) rotate(-90)" font-family='"Liberation Sans", sans-serif' font-size="18" font-weight="bold" text-anchor="middle" x="0" y="0" stroke="#000" stroke-width="0.3">Current/μA</text>
<text x="622.7" y="671.9" font-family='"Liberation Sans", sans-serif' font-size="18.3" font-weight="bold" fill="#000" text-anchor="middle" stroke="#000" stroke-width="0.3">E/V Vs. Ag/AgCl</text>
<text x="714.6" y="459.3" font-family='"Liberation Sans", sans-serif' font-size="8.9" font-weight="bold" fill="#000" text-anchor="start" stroke="#000" stroke-width="0.3">100 μM</text>
<text x="710.7" y="544.1" font-family='"Liberation Sans", sans-serif' font-size="8.9" font-weight="bold" fill="#000" text-anchor="start" stroke="#000" stroke-width="0.3">1000 μM</text>
<line x1="729.1" y1="463.9" x2="729.1" y2="523" stroke="#000" stroke-width="1.3" stroke-linecap="butt"/>
<path d="M727,522 L731.2,522 L729.1,530 Z" fill="#000"/>
<text x="176.4" y="735.8" font-family='"Liberation Serif", serif' font-size="17" font-weight="bold" fill="#d4101e" text-anchor="start">e)</text>
<path d="M257.2,975 257.8,973.6 258.3,972.2 258.9,970.8 259.5,969.5 260.1,968.1 260.7,966.7 261.2,965.3 261.8,963.9 262.4,962.5 263,961.2 263.6,959.8 264.1,958.4 264.7,957 265.3,955.6 265.9,954.3 266.5,952.9 267.1,951.5 267.7,950.1 268.3,948.7 268.9,947.4 269.5,946 270.1,944.6 270.7,943.3 271.3,941.9 272,940.5 272.6,939.2 273.2,937.8 273.9,936.4 274.5,935.1 275.2,933.7 275.8,932.4 276.5,931 277.1,929.7 277.8,928.3 278.4,927 279.1,925.6 279.7,924.3 280.3,922.9 281,921.6 281.6,920.2 282.3,918.8 282.9,917.5 283.6,916.1 284.2,914.8 284.8,913.4 285.5,912.1 286.1,910.7 286.8,909.4 287.4,908 288,906.6 288.7,905.3 289.3,903.9 289.9,902.6 290.5,901.2 291.2,899.8 291.8,898.5 292.4,897.1 293,895.7 293.6,894.3 294.2,893 294.8,891.6 295.4,890.2 296,888.8 296.6,887.4 297.1,886.1 297.7,884.7 298.3,883.3 298.9,881.9 299.5,880.6 300.2,879.2 300.8,877.8 301.4,876.5 302,875.1 302.7,873.8 303.3,872.4 304,871 304.6,869.7 305.3,868.3 305.9,867 306.6,865.7 307.3,864.3 308,863 308.7,861.7 309.4,860.3 310.1,859 310.8,857.7 311.5,856.4 312.2,855.1 313,853.8 313.7,852.5 314.5,851.2 315.3,849.9 316.1,848.6 316.9,847.3 317.7,846.1 318.5,844.8 319.3,843.6 320.2,842.3 321,841.1 321.9,839.9 322.7,838.6 323.6,837.4 324.5,836.2 325.4,835 326.3,833.8 327.2,832.6 328.2,831.5 329.1,830.3 330.1,829.1 331,828 332,826.8 333,825.7 333.9,824.6 334.9,823.4 335.9,822.3 336.9,821.2 338,820.1 339,819 340,817.9 341,816.8 342.1,815.7 343.1,814.6 344.2,813.6 345.2,812.5 346.3,811.4 347.3,810.4 348.4,809.3 349.5,808.3 350.6,807.3 351.7,806.2 352.8,805.2 353.9,804.2 355,803.3 356.2,802.3 357.4,801.4 358.6,800.5 359.8,799.6 361.1,798.8 362.4,798.1 363.7,797.4 365,796.7 366.3,796 367.7,795.3 369,794.6 370.4,793.9 371.7,793.3 373,792.6 374.3,791.8 375.7,791.1 377,790.5 378.3,789.8 379.7,789.1 381,788.4 382.4,787.8 383.7,787.1 385.1,786.5 386.4,785.9 387.8,785.3 389.2,784.7 390.6,784.1 392,783.5 393.3,782.9 394.7,782.4 396.1,781.8 397.5,781.3 398.9,780.7 400.3,780.2 401.7,779.7 403.1,779.2 404.6,778.7 406,778.2 407.4,777.7 408.8,777.2 410.2,776.8 411.7,776.3 413.1,775.9 414.6,775.4 416,775 417.4,774.7 418.9,774.3 420.4,773.9 421.8,773.6 423.3,773.2 424.7,772.9 426.2,772.6 427.7,772.3 429.1,771.9 430.6,771.6 432.1,771.3 433.5,771 435,770.7 436.5,770.4 437.9,770.1 439.4,769.8 440.9,769.5 442.4,769.3 443.8,769 445.3,768.7 446.8,768.5 448.3,768.2 449.7,767.9 451.2,767.7 452.7,767.4 454.2,767.1 455.6,766.8 457.1,766.6 458.6,766.3 460.1,766 461.5,765.7 463,765.4 464.5,765.1 466,764.8 467.4,764.6 468.9,764.3 470.4,764 471.8,763.7 473.3,763.4 474.8,763.1 476.3,762.9 477.8,762.6 479.2,762.4 480.7,762.1 482.2,761.8 483.7,761.6 485.1,761.4 486.6,761.2 488.1,760.9 489.6,760.7 491.1,760.5 492.6,760.4 494.1,760.2 495.6,760 497,759.8 498.5,759.7 500,759.5 501.5,759.4 503,759.2 504.5,759.1 506,758.9 507.5,758.8 509,758.6 510.5,758.5 512,758.4 513.5,758.2 515,758.1 516.5,757.9 517.9,757.8 519.4,757.6 520.9,757.4 522.4,757.3 523.9,757.1 525.4,756.9 526.9,756.7 528.4,756.6 529.9,756.4 531.4,756.2 532.8,756 534.3,755.9 535.8,755.7 537.3,755.5 538.8,755.3 540.3,755.1 541.8,754.9 543.3,754.7 544.8,754.5 546.2,754.3 547.7,754.1 549.2,753.9 550.7,753.7 552.2,753.5 553.7,753.2 555.1,753 556.6,752.7 558.1,752.4 559.5,752.1 561,751.8 562.5,751.4 563.9,751.1 565.4,750.8 566.9,750.5 568.3,750.1 569.8,749.8" fill="none" stroke="#515151" stroke-width="1.6" stroke-linejoin="round" stroke-linecap="round"/>
<path d="M257.9,978.7 258.4,977.3 258.9,975.9 259.4,974.5 259.9,973.1 260.4,971.6 260.9,970.2 261.5,968.8 262,967.4 262.5,966 263,964.6 263.5,963.2 264,961.8 264.5,960.3 265,958.9 265.5,957.5 266,956.1 266.5,954.7 267,953.3 267.5,951.9 268,950.5 268.5,949 269,947.6 269.5,946.2 270,944.8 270.6,943.4 271.1,942 271.6,940.6 272.1,939.2 272.6,937.8 273.1,936.3 273.6,934.9 274.1,933.5 274.7,932.1 275.2,930.7 275.7,929.3 276.2,927.9 276.7,926.5 277.3,925.1 277.8,923.7 278.3,922.3 278.9,920.9 279.4,919.5 280,918.1 280.5,916.7 281.1,915.3 281.7,913.9 282.3,912.5 282.9,911.2 283.4,909.8 284,908.4 284.6,907 285.2,905.6 285.8,904.3 286.3,902.9 286.9,901.5 287.5,900.1 288,898.7 288.5,897.3 289.1,895.9 289.6,894.5 290.1,893.1 290.6,891.7 291.1,890.2 291.6,888.8 292.2,887.4 292.7,886 293.2,884.6 293.7,883.2 294.2,881.8 294.8,880.4 295.3,879 295.8,877.6 296.4,876.2 296.9,874.8 297.5,873.4 298,872 298.6,870.6 299.1,869.2 299.7,867.8 300.2,866.4 300.8,865 301.4,863.6 301.9,862.3 302.5,860.9 303.1,859.5 303.7,858.1 304.3,856.7 304.9,855.4 305.6,854 306.2,852.7 306.9,851.3 307.6,850 308.3,848.7 309,847.3 309.7,846 310.5,844.7 311.2,843.4 312,842.2 312.8,840.9 313.6,839.6 314.4,838.4 315.2,837.1 316.1,835.9 316.9,834.6 317.8,833.4 318.6,832.2 319.5,831 320.4,829.8 321.3,828.6 322.3,827.4 323.2,826.2 324.2,825.1 325.1,823.9 326.1,822.8 327.1,821.7 328.1,820.5 329.1,819.4 330.2,818.3 331.2,817.3 332.3,816.2 333.3,815.2 334.4,814.2 335.6,813.2 336.7,812.2 337.9,811.2 339,810.3 340.2,809.4 341.5,808.5 342.7,807.7 344,806.9 345.2,806.1 346.5,805.3 347.8,804.5 349.1,803.7 350.4,803 351.7,802.3 353,801.6 354.3,800.9 355.7,800.2 357,799.5 358.3,798.8 359.7,798.1 361,797.5 362.4,796.9 363.8,796.3 365.2,795.8 366.6,795.2 368,794.6 369.4,794.1 370.7,793.5 372.1,793 373.5,792.4 374.9,791.9 376.3,791.3 377.7,790.8 379.1,790.2 380.5,789.7 381.9,789.1 383.3,788.6 384.7,788 386.1,787.5 387.5,786.9 388.9,786.3 390.3,785.8 391.7,785.2 393.1,784.7 394.4,784.1 395.8,783.5 397.2,782.9 398.6,782.4 400,781.8 401.4,781.3 402.8,780.8 404.2,780.3 405.6,779.8 407.1,779.3 408.5,778.8 409.9,778.4 411.3,777.9 412.8,777.5 414.2,777 415.7,776.6 417.1,776.2 418.5,775.8 420,775.4 421.4,775 422.9,774.7 424.3,774.3 425.8,773.9 427.3,773.5 428.7,773.2 430.2,772.8 431.6,772.5 433.1,772.1 434.5,771.8 436,771.4 437.5,771.1 438.9,770.8 440.4,770.5 441.9,770.2 443.3,769.9 444.8,769.6 446.3,769.3 447.8,769 449.2,768.8 450.7,768.5 452.2,768.2 453.7,767.9 455.1,767.6 456.6,767.3 458.1,767.1 459.5,766.8 461,766.5 462.5,766.2 464,765.9 465.4,765.6 466.9,765.3 468.4,765 469.8,764.7 471.3,764.4 472.8,764.1 474.3,763.9 475.7,763.6 477.2,763.3 478.7,763 480.2,762.8 481.6,762.5 483.1,762.3 484.6,762.1 486.1,761.8 487.6,761.6 489.1,761.4 490.6,761.2 492,761 493.5,760.9 495,760.7 496.5,760.5 498,760.4 499.5,760.2 501,760.1 502.5,759.9 504,759.8 505.5,759.7 507,759.5 508.5,759.4 510,759.3 511.5,759.2 512.9,759 514.4,758.9 515.9,758.8 517.4,758.7 518.9,758.5 520.4,758.4 521.9,758.3 523.4,758.2 524.9,758 526.4,757.9 527.9,757.8 529.4,757.7 530.9,757.6 532.4,757.5 533.9,757.4 535.4,757.3 536.9,757.2 538.4,757.1 539.9,757 541.4,756.9 542.9,756.8 544.4,756.7 545.9,756.6 547.4,756.4 548.9,756.3 550.3,756.2 551.8,756.1 553.3,756 554.8,755.9 556.3,755.8 557.8,755.7 559.3,755.6 560.8,755.5 562.3,755.3 563.8,755.2 565.3,755.1 566.8,755 568.3,754.9 569.8,754.8" fill="none" stroke="#F14040" stroke-width="1.6" stroke-linejoin="round" stroke-linecap="round"/>
<line x1="274.8" y1="763.2" x2="302.4" y2="763.2" stroke="#F14040" stroke-width="1.8" stroke-linecap="butt"/>
<line x1="274.8" y1="779.8" x2="302.4" y2="779.8" stroke="#515151" stroke-width="1.8" stroke-linecap="butt"/>
<text x="305.6" y="766.9" font-family='"Liberation Sans", sans-serif' font-size="11.5" font-weight="bold" fill="#000" text-anchor="start" stroke="#000" stroke-width="0.3">1<tspan dx="0.3" dy="-4.8" font-size="8">st</tspan><tspan dy="4.8"> cycle</tspan></text>
<text x="305.4" y="783.7" font-family='"Liberation Sans", sans-serif' font-size="11.5" font-weight="bold" fill="#000" text-anchor="start" stroke="#000" stroke-width="0.3">50<tspan dx="0.3" dy="-4.8" font-size="8">th</tspan><tspan dy="4.8"> cycle</tspan></text>
<rect x="256.8" y="727" width="313.4" height="252.1" fill="none" stroke="#000" stroke-width="1.9"/>
<line x1="251.8" y1="979.1" x2="256.8" y2="979.1" stroke="#000" stroke-width="1.7" stroke-linecap="butt"/>
<text x="248.2" y="983.86" font-family='"Liberation Sans", sans-serif' font-size="13.3" font-weight="bold" fill="#000" text-anchor="end" stroke="#000" stroke-width="0.3">-200</text>
<line x1="254.2" y1="951.09" x2="256.8" y2="951.09" stroke="#000" stroke-width="1.7" stroke-linecap="butt"/>
<line x1="251.8" y1="923.08" x2="256.8" y2="923.08" stroke="#000" stroke-width="1.7" stroke-linecap="butt"/>
<text x="248.2" y="927.84" font-family='"Liberation Sans", sans-serif' font-size="13.3" font-weight="bold" fill="#000" text-anchor="end" stroke="#000" stroke-width="0.3">-150</text>
<line x1="254.2" y1="895.07" x2="256.8" y2="895.07" stroke="#000" stroke-width="1.7" stroke-linecap="butt"/>
<line x1="251.8" y1="867.06" x2="256.8" y2="867.06" stroke="#000" stroke-width="1.7" stroke-linecap="butt"/>
<text x="248.2" y="871.82" font-family='"Liberation Sans", sans-serif' font-size="13.3" font-weight="bold" fill="#000" text-anchor="end" stroke="#000" stroke-width="0.3">-100</text>
<line x1="254.2" y1="839.04" x2="256.8" y2="839.04" stroke="#000" stroke-width="1.7" stroke-linecap="butt"/>
<line x1="251.8" y1="811.03" x2="256.8" y2="811.03" stroke="#000" stroke-width="1.7" stroke-linecap="butt"/>
<text x="248.2" y="815.79" font-family='"Liberation Sans", sans-serif' font-size="13.3" font-weight="bold" fill="#000" text-anchor="end" stroke="#000" stroke-width="0.3">-50</text>
<line x1="254.2" y1="783.02" x2="256.8" y2="783.02" stroke="#000" stroke-width="1.7" stroke-linecap="butt"/>
<line x1="251.8" y1="755.01" x2="256.8" y2="755.01" stroke="#000" stroke-width="1.7" stroke-linecap="butt"/>
<text x="248.2" y="759.77" font-family='"Liberation Sans", sans-serif' font-size="13.3" font-weight="bold" fill="#000" text-anchor="end" stroke="#000" stroke-width="0.3">0</text>
<line x1="254.2" y1="727" x2="256.8" y2="727" stroke="#000" stroke-width="1.7" stroke-linecap="butt"/>
<line x1="271.72" y1="979.1" x2="271.72" y2="984.1" stroke="#000" stroke-width="1.7" stroke-linecap="butt"/>
<text x="271.72" y="998.6" font-family='"Liberation Sans", sans-serif' font-size="13.3" font-weight="bold" fill="#000" text-anchor="middle" stroke="#000" stroke-width="0.3">-1.4</text>
<line x1="301.57" y1="979.1" x2="301.57" y2="981.7" stroke="#000" stroke-width="1.7" stroke-linecap="butt"/>
<line x1="331.42" y1="979.1" x2="331.42" y2="984.1" stroke="#000" stroke-width="1.7" stroke-linecap="butt"/>
<text x="331.42" y="998.6" font-family='"Liberation Sans", sans-serif' font-size="13.3" font-weight="bold" fill="#000" text-anchor="middle" stroke="#000" stroke-width="0.3">-1.2</text>
<line x1="361.27" y1="979.1" x2="361.27" y2="981.7" stroke="#000" stroke-width="1.7" stroke-linecap="butt"/>
<line x1="391.11" y1="979.1" x2="391.11" y2="984.1" stroke="#000" stroke-width="1.7" stroke-linecap="butt"/>
<text x="391.11" y="998.6" font-family='"Liberation Sans", sans-serif' font-size="13.3" font-weight="bold" fill="#000" text-anchor="middle" stroke="#000" stroke-width="0.3">-1.0</text>
<line x1="420.96" y1="979.1" x2="420.96" y2="981.7" stroke="#000" stroke-width="1.7" stroke-linecap="butt"/>
<line x1="450.81" y1="979.1" x2="450.81" y2="984.1" stroke="#000" stroke-width="1.7" stroke-linecap="butt"/>
<text x="450.81" y="998.6" font-family='"Liberation Sans", sans-serif' font-size="13.3" font-weight="bold" fill="#000" text-anchor="middle" stroke="#000" stroke-width="0.3">-0.8</text>
<line x1="480.66" y1="979.1" x2="480.66" y2="981.7" stroke="#000" stroke-width="1.7" stroke-linecap="butt"/>
<line x1="510.5" y1="979.1" x2="510.5" y2="984.1" stroke="#000" stroke-width="1.7" stroke-linecap="butt"/>
<text x="510.5" y="998.6" font-family='"Liberation Sans", sans-serif' font-size="13.3" font-weight="bold" fill="#000" text-anchor="middle" stroke="#000" stroke-width="0.3">-0.6</text>
<line x1="540.35" y1="979.1" x2="540.35" y2="981.7" stroke="#000" stroke-width="1.7" stroke-linecap="butt"/>
<line x1="570.2" y1="979.1" x2="570.2" y2="984.1" stroke="#000" stroke-width="1.7" stroke-linecap="butt"/>
<text x="570.2" y="998.6" font-family='"Liberation Sans", sans-serif' font-size="13.3" font-weight="bold" fill="#000" text-anchor="middle" stroke="#000" stroke-width="0.3">-0.4</text>
<text transform="translate(214.3,852.7) rotate(-90)" font-family='"Liberation Sans", sans-serif' font-size="18" font-weight="bold" text-anchor="middle" x="0" y="0" stroke="#000" stroke-width="0.3">Current/μA</text>
<text x="408.2" y="1023.2" font-family='"Liberation Sans", sans-serif' font-size="16.8" font-weight="bold" fill="#000" text-anchor="middle" stroke="#000" stroke-width="0.3">E/V Vs. Ag/AgCl</text>
</g>
</svg>
</body></html>
